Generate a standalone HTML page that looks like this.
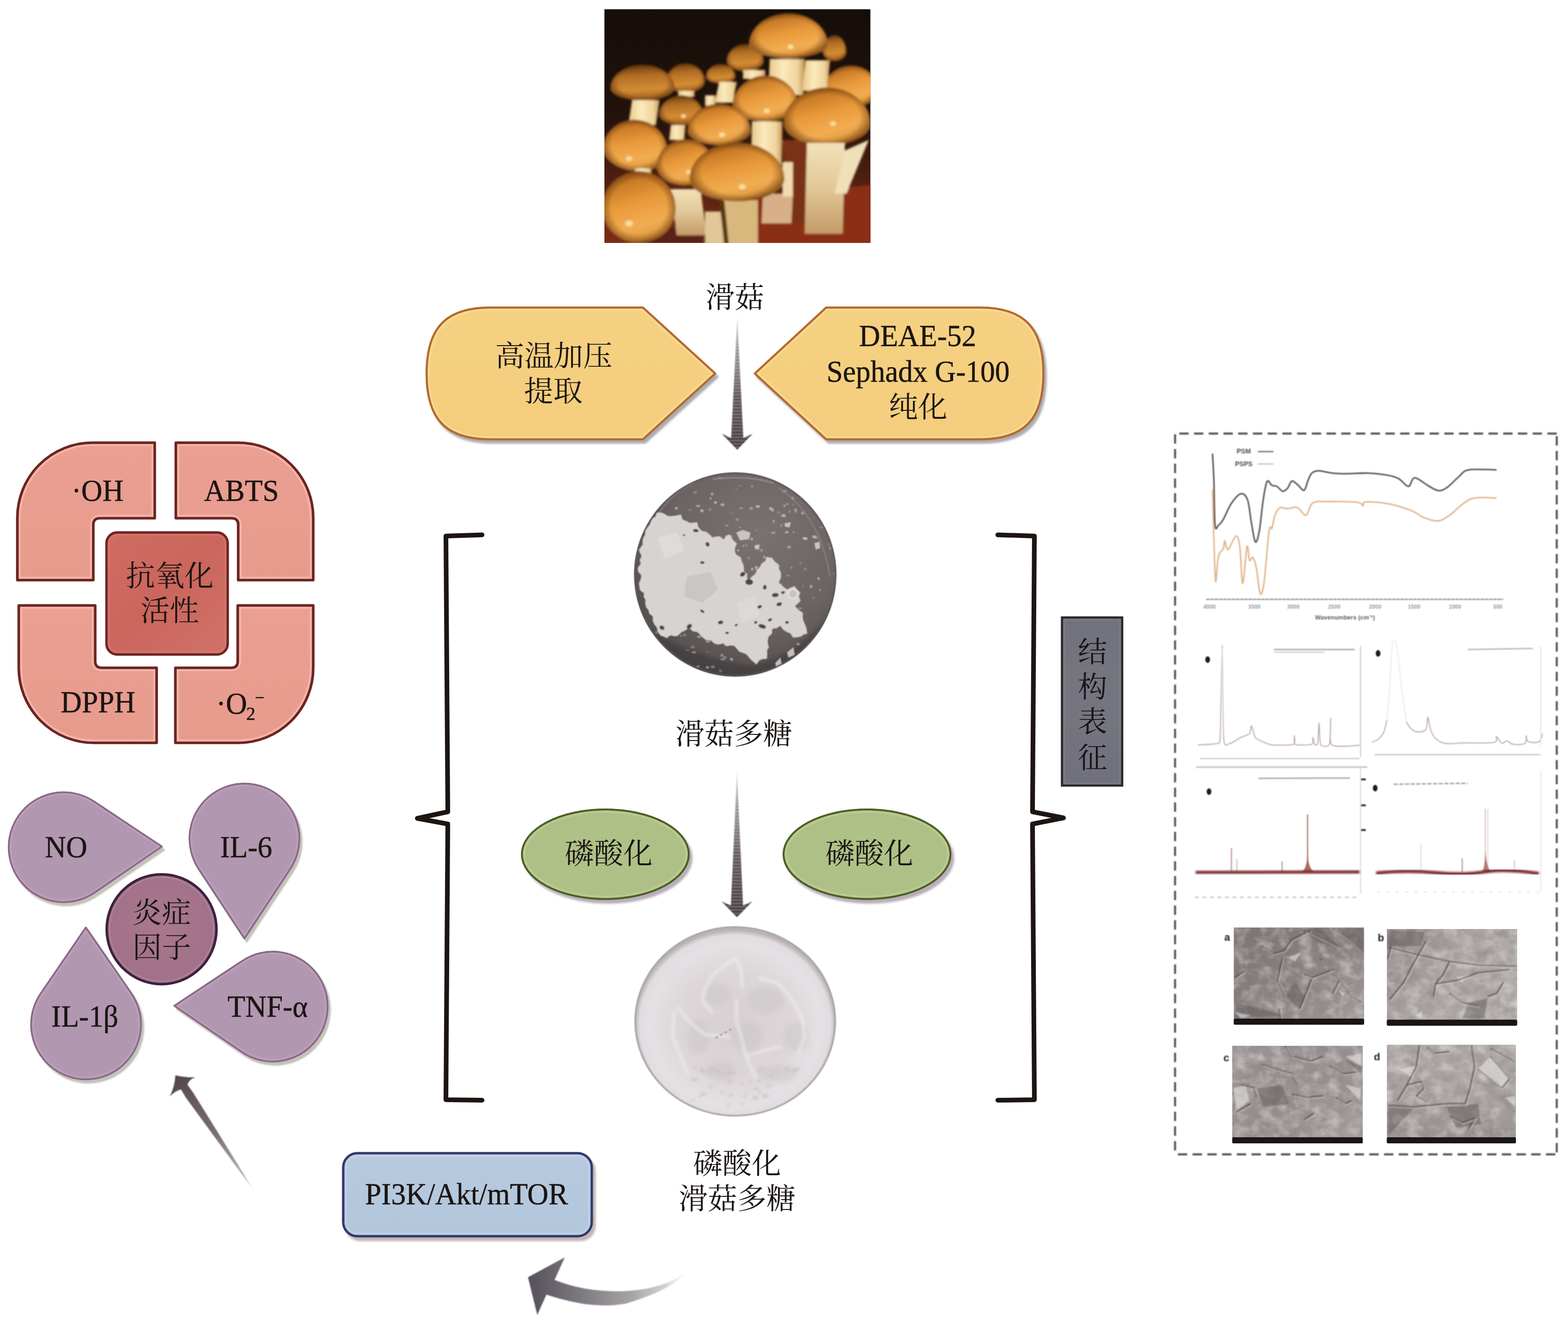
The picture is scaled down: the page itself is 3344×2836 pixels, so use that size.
<!DOCTYPE html>
<html lang="zh-CN"><head><meta charset="utf-8"><title>滑菇多糖 磷酸化 图示</title>
<style>
html,body{margin:0;padding:0;background:#fff;}
body{width:3344px;height:2836px;overflow:hidden;}
svg{display:block;font-family:"Liberation Serif", "Noto Serif CJK SC", serif;}
</style></head><body>
<svg width="3344" height="2836" viewBox="0 0 3344 2836">
<defs>
<clipPath id="cMush"><rect x="1289" y="19.5" width="567.5" height="498.5"/></clipPath>
<filter id="blM" x="-5%" y="-5%" width="110%" height="110%"><feGaussianBlur stdDeviation="2.2"/></filter>
<linearGradient id="gMbg" x1="0" y1="0" x2="0" y2="1"><stop offset="0" stop-color="#150d09"/><stop offset="0.45" stop-color="#21120b"/><stop offset="0.7" stop-color="#4a1e10"/><stop offset="1" stop-color="#7c2c18"/></linearGradient>
<linearGradient id="gCap" x1="0.25" y1="0" x2="0.65" y2="1"><stop offset="0" stop-color="#9c5a1a"/><stop offset="0.18" stop-color="#c97c28"/><stop offset="0.45" stop-color="#e8993a"/><stop offset="0.75" stop-color="#f2ad52"/><stop offset="0.92" stop-color="#e09a40"/><stop offset="1" stop-color="#a8661e"/></linearGradient>
<linearGradient id="gCapD" x1="0.4" y1="0" x2="0.5" y2="1"><stop offset="0" stop-color="#6a3a10"/><stop offset="0.3" stop-color="#b06e24"/><stop offset="0.7" stop-color="#d48c34"/><stop offset="1" stop-color="#9a5c1a"/></linearGradient>
<radialGradient id="gCapS" cx="0.5" cy="0.5" r="0.5"><stop offset="0.75" stop-color="#5a2c08" stop-opacity="0"/><stop offset="1" stop-color="#5a2c08" stop-opacity="0.55"/></radialGradient>
<linearGradient id="gStem" x1="0" y1="0" x2="1" y2="0"><stop offset="0" stop-color="#e8c88c"/><stop offset="0.4" stop-color="#fbeabc"/><stop offset="0.8" stop-color="#f0d49c"/><stop offset="1" stop-color="#c89858"/></linearGradient>
<linearGradient id="gStem2" x1="0" y1="0" x2="0" y2="1"><stop offset="0" stop-color="#f2e2b8"/><stop offset="0.5" stop-color="#e2c898"/><stop offset="1" stop-color="#c49a68"/></linearGradient>
<clipPath id="cD1"><ellipse cx="1568" cy="1225" rx="215" ry="217"/></clipPath>
<radialGradient id="gD1" cx="0.62" cy="0.3" r="0.85"><stop offset="0" stop-color="#7a7270"/><stop offset="0.5" stop-color="#6c6463"/><stop offset="0.85" stop-color="#544e4e"/><stop offset="1" stop-color="#464141"/></radialGradient>
<filter id="blD" x="-10%" y="-10%" width="120%" height="120%"><feGaussianBlur stdDeviation="2"/></filter>
<filter id="blD1" x="-10%" y="-10%" width="120%" height="120%"><feGaussianBlur stdDeviation="1.1"/></filter>
<filter id="blD3" x="-20%" y="-20%" width="140%" height="140%"><feGaussianBlur stdDeviation="5"/></filter>
<clipPath id="cD2"><ellipse cx="1568" cy="2178" rx="213" ry="201"/></clipPath>
<radialGradient id="gD2" cx="0.5" cy="0.52" r="0.5"><stop offset="0" stop-color="#d6cfd3"/><stop offset="0.55" stop-color="#dcd6d9"/><stop offset="0.85" stop-color="#e5e0e3"/><stop offset="0.95" stop-color="#e1dcdf"/><stop offset="1" stop-color="#b9b3b6"/></radialGradient>
<filter id="blD4" x="-20%" y="-20%" width="140%" height="140%"><feGaussianBlur stdDeviation="3.2"/></filter>
<filter id="shY" x="-10%" y="-10%" width="125%" height="130%"><feGaussianBlur in="SourceAlpha" stdDeviation="2"/><feOffset dx="5" dy="7" result="o"/><feFlood flood-color="#96969e" flood-opacity="0.8"/><feComposite in2="o" operator="in"/><feMerge><feMergeNode/><feMergeNode in="SourceGraphic"/></feMerge></filter>
<filter id="shG" x="-10%" y="-10%" width="125%" height="130%"><feGaussianBlur in="SourceAlpha" stdDeviation="2.2"/><feOffset dx="6" dy="8" result="o"/><feFlood flood-color="#a898a8" flood-opacity="0.8"/><feComposite in2="o" operator="in"/><feMerge><feMergeNode/><feMergeNode in="SourceGraphic"/></feMerge></filter>
<filter id="shB" x="-10%" y="-10%" width="125%" height="130%"><feGaussianBlur in="SourceAlpha" stdDeviation="2"/><feOffset dx="6" dy="8" result="o"/><feFlood flood-color="#b8a8a2" flood-opacity="0.85"/><feComposite in2="o" operator="in"/><feMerge><feMergeNode/><feMergeNode in="SourceGraphic"/></feMerge></filter>
<linearGradient id="gY" x1="0" y1="0" x2="0" y2="1"><stop offset="0" stop-color="#f6d182"/><stop offset="1" stop-color="#f4cd7d"/></linearGradient>
<linearGradient id="gArr" x1="0" y1="0" x2="0" y2="1"><stop offset="0" stop-color="#a09a9e" stop-opacity="0.5"/><stop offset="0.22" stop-color="#8a8286" stop-opacity="0.8"/><stop offset="0.6" stop-color="#5e5558"/><stop offset="1" stop-color="#453b3c"/></linearGradient>
<pattern id="pStripe" width="8" height="7" patternUnits="userSpaceOnUse"><rect width="8" height="3" fill="#fff" opacity="0.22"/></pattern>
<radialGradient id="gG" cx="0.5" cy="0.5" r="0.6"><stop offset="0" stop-color="#b0c288"/><stop offset="1" stop-color="#adbf85"/></radialGradient>
<linearGradient id="gB" x1="0" y1="0" x2="0" y2="1"><stop offset="0" stop-color="#b7cadf"/><stop offset="1" stop-color="#b2c6dc"/></linearGradient>
<linearGradient id="gDiag" gradientUnits="userSpaceOnUse" x1="374" y1="2294" x2="545" y2="2543"><stop offset="0" stop-color="#514547"/><stop offset="0.2" stop-color="#64585a"/><stop offset="0.5" stop-color="#7a6e70"/><stop offset="0.85" stop-color="#a09899" stop-opacity="0.8"/><stop offset="1" stop-color="#b0a8aa" stop-opacity="0"/></linearGradient>
<linearGradient id="gCurve" gradientUnits="userSpaceOnUse" x1="1126" y1="0" x2="1470" y2="0"><stop offset="0" stop-color="#55505a"/><stop offset="0.3" stop-color="#7a767c"/><stop offset="0.65" stop-color="#a8a4a8"/><stop offset="0.85" stop-color="#c8c4c6" stop-opacity="0.8"/><stop offset="1" stop-color="#e0dcde" stop-opacity="0"/></linearGradient>
<filter id="soft" x="-10%" y="-10%" width="120%" height="120%"><feGaussianBlur stdDeviation="1.2"/></filter>
<clipPath id="cY0"><path d="M1046,656 L1371,656 L1525,796.5 L1371,936.5 L1046,936.5 C950,936.5 910,893 910,796.5 C910,700 950,656 1046,656 Z"/></clipPath>
<clipPath id="cY1"><path d="M2090,656 L1762,656 L1610,796.5 L1762,936.5 L2090,936.5 C2185,936.5 2225,893 2225,796.5 C2225,700 2185,656 2090,656 Z"/></clipPath>
<linearGradient id="gRed" x1="0" y1="0" x2="0" y2="1"><stop offset="0" stop-color="#ea9f92"/><stop offset="1" stop-color="#e79b8d"/></linearGradient>
<linearGradient id="gRedC" x1="0" y1="0" x2="1" y2="1"><stop offset="0" stop-color="#cf6c62"/><stop offset="0.5" stop-color="#cb665d"/><stop offset="1" stop-color="#d0726a"/></linearGradient>
<clipPath id="cR0"><path d="M197,944 L330,944 L330,1105 L213,1105 Q199,1105 199,1119 L199,1237 L37,1237 L37,1104 A160,160 0 0 1 197,944 Z"/></clipPath>
<clipPath id="cR1"><path d="M375,944 L508,944 A160,160 0 0 1 668,1104 L668,1237 L508,1237 L508,1119 Q508,1105 494,1105 L375,1105 Z"/></clipPath>
<clipPath id="cR2"><path d="M40,1291 L203,1291 L203,1410 Q203,1424 217,1424 L334,1424 L334,1584 L200,1584 A160,160 0 0 1 40,1424 Z"/></clipPath>
<clipPath id="cR3"><path d="M507,1291 L668,1291 L668,1424 A160,160 0 0 1 508,1584 L374,1584 L374,1424 L493,1424 Q507,1424 507,1410 Z"/></clipPath>
<filter id="shP" x="-20%" y="-20%" width="150%" height="150%"><feGaussianBlur in="SourceAlpha" stdDeviation="1.6"/><feOffset dx="5" dy="7" result="o"/><feFlood flood-color="#b2b2a8" flood-opacity="0.8"/><feComposite in2="o" operator="in"/><feMerge><feMergeNode/><feMergeNode in="SourceGraphic"/></feMerge></filter>
<radialGradient id="gPC" cx="0.5" cy="0.45" r="0.6"><stop offset="0" stop-color="#a9788e"/><stop offset="1" stop-color="#a07088"/></radialGradient>
<clipPath id="cP0"><path d="M345.0,1805.2 L200.5,1709.1 A117,117 0 1 0 201.7,1903.1 Z"/></clipPath>
<clipPath id="cP1"><path d="M521.3,2001.0 L619.1,1852.3 A117,117 0 1 0 423.5,1852.3 Z"/></clipPath>
<clipPath id="cP2"><path d="M372.0,2144.7 L515.5,2242.9 A117,117 0 1 0 517.1,2048.8 Z"/></clipPath>
<clipPath id="cP3"><path d="M183.0,1978.0 L87.0,2118.3 A117,117 0 1 0 279.7,2117.8 Z"/></clipPath>
<filter id="bl1" x="-5%" y="-5%" width="110%" height="110%"><feGaussianBlur stdDeviation="1.3"/></filter>
<filter id="blH" x="-5%" y="-5%" width="110%" height="110%"><feGaussianBlur stdDeviation="0.7"/></filter>
<filter id="bl2" x="-5%" y="-20%" width="110%" height="140%"><feGaussianBlur stdDeviation="2"/></filter>
<linearGradient id="gBox" x1="0" y1="0" x2="0" y2="1"><stop offset="0" stop-color="#72727d"/><stop offset="0.5" stop-color="#75757f"/><stop offset="1" stop-color="#71717c"/></linearGradient>
<filter id="semTex" x="0" y="0" width="100%" height="100%"><feTurbulence type="fractalNoise" baseFrequency="0.03 0.04" numOctaves="3" seed="21"/><feColorMatrix type="matrix" values="0 0 0 0 0.25  0 0 0 0 0.23  0 0 0 0 0.24  1.8 1.4 0 0 -1.35"/></filter>
<filter id="semTexL" x="0" y="0" width="100%" height="100%"><feTurbulence type="fractalNoise" baseFrequency="0.035 0.045" numOctaves="3" seed="33"/><feColorMatrix type="matrix" values="0 0 0 0 0.85  0 0 0 0 0.83  0 0 0 0 0.83  1.8 1.4 0 0 -1.4"/></filter>
<filter id="bl3" x="-5%" y="-5%" width="110%" height="110%"><feGaussianBlur stdDeviation="1.6"/></filter>
<linearGradient id="gSa" x1="0" y1="0" x2="1" y2="1"><stop offset="0" stop-color="#7a7271"/><stop offset="0.5" stop-color="#8a8180"/><stop offset="1" stop-color="#a69e9c"/></linearGradient>
<linearGradient id="gSb" x1="0" y1="0" x2="1" y2="0.6"><stop offset="0" stop-color="#8e8685"/><stop offset="0.4" stop-color="#a8a19f"/><stop offset="1" stop-color="#b4adab"/></linearGradient>
<linearGradient id="gSc" x1="0" y1="0" x2="1" y2="1"><stop offset="0" stop-color="#9e9796"/><stop offset="0.5" stop-color="#97908f"/><stop offset="1" stop-color="#a69f9d"/></linearGradient>
<linearGradient id="gSd" x1="0" y1="0" x2="0" y2="1"><stop offset="0" stop-color="#b0a9a7"/><stop offset="0.6" stop-color="#a69f9d"/><stop offset="1" stop-color="#9a9392"/></linearGradient>
<clipPath id="cSa"><rect x="2631.2" y="1977.6" width="278.0" height="207.3"/></clipPath>
<clipPath id="cSb"><rect x="2957.6" y="1981.0" width="278.0" height="206.3"/></clipPath>
<clipPath id="cSc"><rect x="2627.8" y="2230.0" width="278.7" height="208.0"/></clipPath>
<clipPath id="cSd"><rect x="2957.6" y="2227.6" width="275.3" height="210.3"/></clipPath>
</defs>
<rect width="3344" height="2836" fill="#ffffff"/>
<g id="mushroom" clip-path="url(#cMush)"><rect x="1289" y="19.5" width="567.5" height="498.5" fill="url(#gMbg)"/><g filter="url(#blM)">
<path d="M1605.1,425.4 L1859.1,393.7 L1859.1,520.7 L1605.1,520.7 Z" fill="#8a2e18"/>
<path d="M1668.6,298.4 L1722.6,298.4 L1716.2,476.2 L1678.2,476.2 Z" fill="#7a3216"/>
<path d="M1386.0,476.2 L1500.3,495.3 L1500.3,520.7 L1386.0,520.7 Z" fill="#5a2412"/>
<path d="M1549.5,130.2 A39.7,36.5 0 0 1 1628.9,130.2 A39.7,22.2 0 0 1 1549.5,130.2 Z" fill="url(#gCapD)"/><path d="M1549.5,130.2 A39.7,36.5 0 0 1 1628.9,130.2 A39.7,22.2 0 0 1 1549.5,130.2 Z" fill="url(#gCapS)"/>
<path d="M1754.3999999999999,111.1 A25.4,36.5 0 0 1 1805.2,111.1 A25.4,19.7 0 0 1 1754.3999999999999,111.1 Z" fill="url(#gCapD)"/><path d="M1754.3999999999999,111.1 A25.4,36.5 0 0 1 1805.2,111.1 A25.4,19.7 0 0 1 1754.3999999999999,111.1 Z" fill="url(#gCapS)"/>
<path d="M1420.9,173.0 A41.3,38.1 0 0 1 1503.5,173.0 A41.3,25.4 0 0 1 1420.9,173.0 Z" fill="url(#gCapD)"/><path d="M1420.9,173.0 A41.3,38.1 0 0 1 1503.5,173.0 A41.3,25.4 0 0 1 1420.9,173.0 Z" fill="url(#gCapS)"/>
<path d="M1505.1000000000001,163.5 A31.8,27.0 0 0 1 1568.7,163.5 A31.8,15.2 0 0 1 1505.1000000000001,163.5 Z" fill="url(#gCapD)"/><path d="M1505.1000000000001,163.5 A31.8,27.0 0 0 1 1568.7,163.5 A31.8,15.2 0 0 1 1505.1000000000001,163.5 Z" fill="url(#gCapS)"/>
<path d="M1754.4,196.8 A60.3,57.1 0 0 1 1875.0,196.8 A60.3,31.8 0 0 1 1754.4,196.8 Z" fill="url(#gCap)"/><path d="M1754.4,196.8 A60.3,57.1 0 0 1 1875.0,196.8 A60.3,31.8 0 0 1 1754.4,196.8 Z" fill="url(#gCapS)"/>
<path d="M1641.6,125.4 L1716.2,125.4 L1713.1,203.2 L1638.5,203.2 Z" fill="url(#gStem)"/>
<path d="M1717.8,128.6 L1770.2,128.6 L1763.9,193.7 L1711.5,193.7 Z" fill="url(#gStem)"/>
<path d="M1533.7,174.6 L1571.8,174.6 L1562.3,219.1 L1524.2,219.1 Z" fill="url(#gStem)"/>
<path d="M1584.5,149.2 L1632.1,149.2 L1632.1,168.3 L1584.5,168.3 Z" fill="url(#gStem)"/>
<path d="M1446.4,193.7 L1481.3,193.7 L1481.3,206.4 L1446.4,206.4 Z" fill="url(#gStem)"/>
<path d="M1503.5,203.2 L1525.8,203.2 L1525.8,225.4 L1503.5,225.4 Z" fill="url(#gStem)"/>
<path d="M1597.2,95.2 A84.1,66.7 0 0 1 1765.3999999999999,95.2 A84.1,29.2 0 0 1 1597.2,95.2 Z" fill="url(#gCap)"/><path d="M1597.2,95.2 A84.1,66.7 0 0 1 1765.3999999999999,95.2 A84.1,29.2 0 0 1 1597.2,95.2 Z" fill="url(#gCapS)"/>
<ellipse cx="1686.1" cy="100.0" rx="6.6" ry="5.1" fill="#fde7a8" opacity="0.85"/>
<path d="M1301.9,187.3 A68.3,49.2 0 0 1 1438.5,187.3 A68.3,27.0 0 0 1 1301.9,187.3 Z" fill="url(#gCapD)"/><path d="M1301.9,187.3 A68.3,49.2 0 0 1 1438.5,187.3 A68.3,27.0 0 0 1 1301.9,187.3 Z" fill="url(#gCapS)"/>
<path d="M1348.0,213.4 L1406.7,213.4 L1398.8,266.7 L1340.0,266.7 Z" fill="url(#gStem)"/>
<path d="M1561.6,228.6 A70.5,67.3 0 0 1 1702.6,228.6 A70.5,30.5 0 0 1 1561.6,228.6 Z" fill="url(#gCap)"/><path d="M1561.6,228.6 A70.5,67.3 0 0 1 1702.6,228.6 A70.5,30.5 0 0 1 1561.6,228.6 Z" fill="url(#gCapS)"/>
<ellipse cx="1635.3" cy="236.5" rx="6.6" ry="5.1" fill="#fde7a8" opacity="0.85"/>
<path d="M1405.7,244.5 A47.0,41.3 0 0 1 1499.7,244.5 A47.0,22.9 0 0 1 1405.7,244.5 Z" fill="url(#gCapD)"/><path d="M1405.7,244.5 A47.0,41.3 0 0 1 1499.7,244.5 A47.0,22.9 0 0 1 1405.7,244.5 Z" fill="url(#gCapS)"/>
<ellipse cx="1457.5" cy="247.7" rx="5.4" ry="4.1" fill="#fde7a8" opacity="0.85"/>
<path d="M1430.5,266.7 L1462.2,266.7 L1459.1,298.4 L1427.3,298.4 Z" fill="url(#gStem)"/>
<path d="M1603.5,258.8 L1668.6,258.8 L1667.0,352.4 L1602.0,352.4 Z" fill="url(#gStem)"/>
<path d="M1466.4,279.4 A67.3,57.8 0 0 1 1601.0,279.4 A67.3,30.5 0 0 1 1466.4,279.4 Z" fill="url(#gCap)"/><path d="M1466.4,279.4 A67.3,57.8 0 0 1 1601.0,279.4 A67.3,30.5 0 0 1 1466.4,279.4 Z" fill="url(#gCapS)"/>
<ellipse cx="1540.0" cy="287.3" rx="6.6" ry="5.1" fill="#fde7a8" opacity="0.85"/>
<path d="M1671.2,263.5 A92.7,76.8 0 0 1 1856.6000000000001,263.5 A92.7,47.0 0 0 1 1671.2,263.5 Z" fill="url(#gCap)"/><path d="M1671.2,263.5 A92.7,76.8 0 0 1 1856.6000000000001,263.5 A92.7,47.0 0 0 1 1671.2,263.5 Z" fill="url(#gCapS)"/>
<ellipse cx="1776.6" cy="263.5" rx="6.6" ry="5.1" fill="#fde7a8" opacity="0.85"/>
<path d="M1721.0,304.8 L1802.0,304.8 L1797.2,498.5 L1716.2,498.5 Z" fill="url(#gStem2)"/>
<path d="M1802.0,320.7 L1852.8,298.4 L1805.2,412.8 L1779.8,412.8 Z" fill="#efe0b8"/>
<path d="M1285.1,320.7 A69.2,65.1 0 0 1 1423.5,320.7 A69.2,44.5 0 0 1 1285.1,320.7 Z" fill="url(#gCap)" transform="rotate(8 1354.3 320.7)"/><path d="M1285.1,320.7 A69.2,65.1 0 0 1 1423.5,320.7 A69.2,44.5 0 0 1 1285.1,320.7 Z" fill="url(#gCapS)" transform="rotate(8 1354.3 320.7)"/>
<ellipse cx="1341.6" cy="338.1" rx="6.6" ry="5.1" fill="#fde7a8" opacity="0.85"/>
<path d="M1354.3,358.8 L1389.2,358.8 L1389.2,377.8 L1354.3,377.8 Z" fill="url(#gStem)"/>
<path d="M1400.3,355.6 A61.9,58.7 0 0 1 1524.1000000000001,355.6 A61.9,40.6 0 0 1 1400.3,355.6 Z" fill="url(#gCap)"/><path d="M1400.3,355.6 A61.9,58.7 0 0 1 1524.1000000000001,355.6 A61.9,40.6 0 0 1 1400.3,355.6 Z" fill="url(#gCapS)"/>
<ellipse cx="1468.6" cy="366.7" rx="5.8" ry="4.4" fill="#fde7a8" opacity="0.85"/>
<path d="M1430.5,403.2 L1494.0,403.2 L1506.7,501.7 L1443.2,501.7 Z" fill="url(#gStem2)"/>
<path d="M1627.3,412.8 L1690.8,412.8 L1687.7,476.2 L1624.2,476.2 Z" fill="#d8b088"/>
<path d="M1668.6,346.1 L1690.8,346.1 L1690.8,419.1 L1668.6,419.1 Z" fill="#f0dcb0"/>
<path d="M1541.6,427.0 L1616.2,427.0 L1616.2,520.7 L1541.6,520.7 Z" fill="#d9b87e"/>
<path d="M1503.5,450.9 L1541.6,450.9 L1541.6,520.7 L1503.5,520.7 Z" fill="#e0c898"/>
<path d="M1533.7,428.6 L1544.8,428.6 L1554.3,520.7 L1544.8,520.7 Z" fill="#5a3410"/>
<path d="M1470.8,381.0 A101.0,76.8 0 0 1 1672.8,381.0 A101.0,48.3 0 0 1 1470.8,381.0 Z" fill="url(#gCap)"/><path d="M1470.8,381.0 A101.0,76.8 0 0 1 1672.8,381.0 A101.0,48.3 0 0 1 1470.8,381.0 Z" fill="url(#gCapS)"/>
<ellipse cx="1582.9" cy="398.5" rx="7.4" ry="5.7" fill="#fde7a8" opacity="0.85"/>
<path d="M1283.5,444.5 A78.7,79.4 0 0 1 1440.9,444.5 A78.7,73.7 0 0 1 1283.5,444.5 Z" fill="url(#gCap)" transform="rotate(5 1362.2 444.5)"/><path d="M1283.5,444.5 A78.7,79.4 0 0 1 1440.9,444.5 A78.7,73.7 0 0 1 1283.5,444.5 Z" fill="url(#gCapS)" transform="rotate(5 1362.2 444.5)"/>
<ellipse cx="1341.6" cy="476.2" rx="8.3" ry="6.3" fill="#fde7a8" opacity="0.85"/>
</g></g>
<g id="dish1"><ellipse cx="1568" cy="1225" rx="215.5" ry="217.5" fill="url(#gD1)"/><g clip-path="url(#cD1)">
<path d="M1360,1330 Q1470,1400 1600,1420 Q1700,1400 1780,1300 L1790,1450 L1350,1450 Z" fill="#3a3638" opacity="0.55" filter="url(#blD3)"/>
<g fill="#dad6d4" filter="url(#blD1)"><ellipse cx="1488.7" cy="1421.1" rx="3.8" ry="2.2" opacity="0.48"/><ellipse cx="1620.4" cy="1275.3" rx="2.7" ry="2.6" opacity="0.35"/><ellipse cx="1576.4" cy="1269.5" rx="3.7" ry="1.7" opacity="0.66"/><ellipse cx="1596.5" cy="1190.0" rx="2.3" ry="2.7" opacity="0.35"/><ellipse cx="1702.2" cy="1373.5" rx="3.5" ry="2.3" opacity="0.60"/><ellipse cx="1591.4" cy="1162.5" rx="1.8" ry="2.2" opacity="0.44"/><ellipse cx="1409.1" cy="1258.7" rx="3.9" ry="3.5" opacity="0.29"/><ellipse cx="1492.0" cy="1278.8" rx="4.5" ry="1.8" opacity="0.34"/><ellipse cx="1466.0" cy="1259.4" rx="2.5" ry="1.8" opacity="0.67"/><ellipse cx="1393.8" cy="1290.6" rx="3.4" ry="1.3" opacity="0.70"/><ellipse cx="1673.6" cy="1047.4" rx="4.7" ry="3.2" opacity="0.32"/><ellipse cx="1497.9" cy="1231.4" rx="2.9" ry="1.3" opacity="0.42"/><ellipse cx="1647.2" cy="1217.6" rx="4.2" ry="2.2" opacity="0.44"/><ellipse cx="1770.4" cy="1168.9" rx="3.4" ry="2.9" opacity="0.32"/><ellipse cx="1508.7" cy="1423.2" rx="3.5" ry="2.4" opacity="0.59"/><ellipse cx="1695.8" cy="1273.4" rx="3.3" ry="3.2" opacity="0.32"/><ellipse cx="1613.1" cy="1213.5" rx="2.2" ry="2.6" opacity="0.55"/><ellipse cx="1573.0" cy="1278.9" rx="4.6" ry="1.8" opacity="0.52"/><ellipse cx="1489.7" cy="1151.3" rx="3.5" ry="2.4" opacity="0.67"/><ellipse cx="1613.4" cy="1379.9" rx="2.3" ry="2.1" opacity="0.55"/><ellipse cx="1540.6" cy="1310.1" rx="4.1" ry="1.4" opacity="0.46"/><ellipse cx="1778.0" cy="1222.9" rx="1.8" ry="1.7" opacity="0.37"/><ellipse cx="1741.0" cy="1147.1" rx="4.6" ry="2.0" opacity="0.32"/><ellipse cx="1647.3" cy="1087.3" rx="3.6" ry="3.5" opacity="0.54"/><ellipse cx="1745.8" cy="1233.8" rx="2.5" ry="2.7" opacity="0.67"/><ellipse cx="1603.1" cy="1264.9" rx="1.9" ry="2.5" opacity="0.37"/><ellipse cx="1441.2" cy="1126.0" rx="2.2" ry="2.7" opacity="0.37"/><ellipse cx="1374.7" cy="1239.1" rx="4.5" ry="1.4" opacity="0.44"/><ellipse cx="1562.5" cy="1257.7" rx="4.2" ry="2.7" opacity="0.37"/><ellipse cx="1560.8" cy="1093.3" rx="3.0" ry="1.2" opacity="0.28"/><ellipse cx="1711.7" cy="1094.1" rx="3.4" ry="3.1" opacity="0.51"/><ellipse cx="1600.9" cy="1269.5" rx="2.6" ry="3.3" opacity="0.61"/><ellipse cx="1691.5" cy="1075.7" rx="2.2" ry="1.8" opacity="0.30"/><ellipse cx="1603.7" cy="1036.6" rx="2.9" ry="2.6" opacity="0.32"/><ellipse cx="1736.7" cy="1144.7" rx="4.9" ry="3.1" opacity="0.65"/><ellipse cx="1729.7" cy="1250.6" rx="2.7" ry="3.3" opacity="0.61"/><ellipse cx="1684.2" cy="1090.4" rx="2.4" ry="3.0" opacity="0.30"/><ellipse cx="1696.8" cy="1090.3" rx="2.3" ry="3.1" opacity="0.46"/><ellipse cx="1508.8" cy="1390.3" rx="2.3" ry="1.3" opacity="0.34"/><ellipse cx="1479.9" cy="1390.9" rx="4.9" ry="1.8" opacity="0.54"/><ellipse cx="1400.5" cy="1348.3" rx="3.4" ry="3.4" opacity="0.30"/><ellipse cx="1631.0" cy="1213.0" rx="4.9" ry="1.8" opacity="0.30"/><ellipse cx="1419.3" cy="1290.5" rx="2.6" ry="2.6" opacity="0.48"/><ellipse cx="1466.5" cy="1315.1" rx="2.4" ry="2.8" opacity="0.25"/><ellipse cx="1682.6" cy="1166.6" rx="4.0" ry="2.9" opacity="0.55"/><ellipse cx="1538.6" cy="1259.0" rx="3.8" ry="2.0" opacity="0.39"/><ellipse cx="1660.8" cy="1092.6" rx="2.6" ry="1.9" opacity="0.43"/><ellipse cx="1498.5" cy="1274.4" rx="1.9" ry="2.2" opacity="0.67"/><ellipse cx="1482.7" cy="1049.8" rx="3.7" ry="1.9" opacity="0.50"/><ellipse cx="1651.4" cy="1225.2" rx="3.0" ry="2.5" opacity="0.54"/><ellipse cx="1459.5" cy="1249.5" rx="2.2" ry="2.3" opacity="0.66"/><ellipse cx="1585.8" cy="1164.5" rx="1.8" ry="2.4" opacity="0.53"/><ellipse cx="1477.1" cy="1379.8" rx="4.1" ry="2.7" opacity="0.35"/><ellipse cx="1579.5" cy="1260.1" rx="2.4" ry="2.3" opacity="0.63"/><ellipse cx="1663.3" cy="1272.4" rx="3.7" ry="1.6" opacity="0.56"/><ellipse cx="1492.3" cy="1227.7" rx="3.8" ry="1.2" opacity="0.59"/><ellipse cx="1574.4" cy="1173.7" rx="3.0" ry="1.6" opacity="0.68"/><ellipse cx="1527.1" cy="1220.3" rx="2.4" ry="3.2" opacity="0.46"/><ellipse cx="1616.1" cy="1080.1" rx="5.0" ry="2.6" opacity="0.68"/><ellipse cx="1677.9" cy="1134.9" rx="4.0" ry="2.4" opacity="0.62"/><ellipse cx="1384.3" cy="1167.5" rx="4.1" ry="2.3" opacity="0.37"/><ellipse cx="1570.5" cy="1372.4" rx="4.2" ry="2.4" opacity="0.53"/><ellipse cx="1560.9" cy="1271.0" rx="2.5" ry="1.8" opacity="0.39"/><ellipse cx="1512.9" cy="1210.7" rx="2.3" ry="2.8" opacity="0.57"/><ellipse cx="1664.6" cy="1266.6" rx="3.4" ry="2.2" opacity="0.34"/><ellipse cx="1398.2" cy="1319.0" rx="3.5" ry="2.8" opacity="0.64"/><ellipse cx="1577.8" cy="1124.4" rx="1.5" ry="2.0" opacity="0.59"/><ellipse cx="1690.5" cy="1062.4" rx="3.0" ry="2.9" opacity="0.50"/><ellipse cx="1510.9" cy="1181.3" rx="2.3" ry="2.2" opacity="0.26"/><ellipse cx="1489.0" cy="1357.7" rx="2.9" ry="1.6" opacity="0.46"/><ellipse cx="1667.6" cy="1328.9" rx="1.6" ry="2.1" opacity="0.50"/><ellipse cx="1712.8" cy="1250.1" rx="2.0" ry="2.3" opacity="0.27"/><ellipse cx="1517.2" cy="1273.7" rx="2.6" ry="3.0" opacity="0.42"/><ellipse cx="1570.3" cy="1042.6" rx="2.4" ry="1.4" opacity="0.26"/><ellipse cx="1363.7" cy="1172.9" rx="2.7" ry="2.7" opacity="0.60"/><ellipse cx="1471.4" cy="1087.7" rx="4.8" ry="1.7" opacity="0.26"/><ellipse cx="1599.5" cy="1270.2" rx="3.8" ry="2.5" opacity="0.35"/><ellipse cx="1515.2" cy="1062.9" rx="2.1" ry="2.6" opacity="0.59"/><ellipse cx="1702.2" cy="1343.7" rx="4.9" ry="1.4" opacity="0.26"/><ellipse cx="1509.9" cy="1368.0" rx="4.9" ry="2.1" opacity="0.57"/><ellipse cx="1706.1" cy="1297.1" rx="3.7" ry="1.4" opacity="0.60"/><ellipse cx="1650.1" cy="1111.3" rx="1.9" ry="3.5" opacity="0.60"/><ellipse cx="1505.7" cy="1314.9" rx="2.8" ry="2.4" opacity="0.40"/><ellipse cx="1672.8" cy="1078.6" rx="1.9" ry="3.4" opacity="0.54"/><ellipse cx="1643.2" cy="1084.2" rx="3.0" ry="2.9" opacity="0.68"/><ellipse cx="1545.8" cy="1401.7" rx="3.4" ry="2.3" opacity="0.45"/><ellipse cx="1558.5" cy="1144.7" rx="4.5" ry="3.1" opacity="0.29"/><ellipse cx="1623.8" cy="1173.2" rx="3.1" ry="2.6" opacity="0.42"/><ellipse cx="1749.1" cy="1258.3" rx="2.1" ry="1.7" opacity="0.61"/><ellipse cx="1466.2" cy="1386.1" rx="4.0" ry="1.8" opacity="0.25"/><ellipse cx="1613.0" cy="1209.6" rx="4.0" ry="2.3" opacity="0.59"/><ellipse cx="1514.2" cy="1086.4" rx="3.2" ry="3.0" opacity="0.29"/><ellipse cx="1595.6" cy="1379.7" rx="2.6" ry="2.5" opacity="0.46"/><ellipse cx="1461.9" cy="1203.9" rx="4.1" ry="2.0" opacity="0.57"/><ellipse cx="1557.9" cy="1302.2" rx="1.9" ry="1.6" opacity="0.30"/><ellipse cx="1404.0" cy="1187.1" rx="2.1" ry="1.7" opacity="0.47"/><ellipse cx="1535.2" cy="1019.2" rx="3.3" ry="1.9" opacity="0.30"/><ellipse cx="1593.1" cy="1294.0" rx="2.1" ry="1.2" opacity="0.49"/><ellipse cx="1536.6" cy="1430.6" rx="3.4" ry="2.8" opacity="0.31"/><ellipse cx="1649.2" cy="1136.0" rx="4.6" ry="2.5" opacity="0.46"/><ellipse cx="1507.4" cy="1249.0" rx="1.7" ry="3.4" opacity="0.46"/><ellipse cx="1613.4" cy="1130.8" rx="1.8" ry="2.6" opacity="0.27"/><ellipse cx="1646.5" cy="1332.9" rx="2.6" ry="3.5" opacity="0.30"/><ellipse cx="1580.7" cy="1083.8" rx="4.3" ry="1.7" opacity="0.49"/><ellipse cx="1462.1" cy="1259.4" rx="4.5" ry="3.5" opacity="0.39"/><ellipse cx="1465.8" cy="1126.9" rx="4.1" ry="3.4" opacity="0.34"/><ellipse cx="1604.4" cy="1372.0" rx="2.0" ry="1.6" opacity="0.28"/><ellipse cx="1680.6" cy="1226.9" rx="3.6" ry="1.9" opacity="0.35"/><ellipse cx="1525.9" cy="1071.6" rx="3.1" ry="2.8" opacity="0.67"/><ellipse cx="1601.9" cy="1084.0" rx="3.8" ry="3.3" opacity="0.44"/><ellipse cx="1425.9" cy="1183.8" rx="4.7" ry="3.1" opacity="0.28"/><ellipse cx="1611.9" cy="1301.0" rx="4.1" ry="2.5" opacity="0.38"/><ellipse cx="1678.1" cy="1335.3" rx="3.9" ry="3.4" opacity="0.48"/><ellipse cx="1521.4" cy="1226.8" rx="1.6" ry="2.2" opacity="0.40"/><ellipse cx="1567.9" cy="1274.0" rx="4.9" ry="3.1" opacity="0.51"/><ellipse cx="1768.6" cy="1160.3" rx="3.9" ry="1.8" opacity="0.27"/><ellipse cx="1572.6" cy="1107.8" rx="3.8" ry="3.3" opacity="0.33"/><ellipse cx="1442.9" cy="1150.0" rx="3.2" ry="1.4" opacity="0.41"/><ellipse cx="1492.1" cy="1357.7" rx="4.5" ry="2.0" opacity="0.56"/><ellipse cx="1520.2" cy="1422.0" rx="4.3" ry="2.5" opacity="0.45"/><ellipse cx="1532.5" cy="1308.4" rx="4.9" ry="2.1" opacity="0.48"/><ellipse cx="1717.2" cy="1213.7" rx="3.4" ry="2.2" opacity="0.33"/><ellipse cx="1460.0" cy="1353.8" rx="3.7" ry="2.9" opacity="0.34"/><ellipse cx="1379.6" cy="1164.2" rx="3.0" ry="2.8" opacity="0.30"/><ellipse cx="1706.9" cy="1201.1" rx="2.3" ry="1.6" opacity="0.50"/><ellipse cx="1521.7" cy="1209.1" rx="5.0" ry="3.3" opacity="0.46"/><ellipse cx="1701.7" cy="1347.7" rx="3.2" ry="2.8" opacity="0.48"/><ellipse cx="1541.4" cy="1405.9" rx="4.9" ry="1.8" opacity="0.50"/><ellipse cx="1421.6" cy="1357.6" rx="3.3" ry="3.2" opacity="0.64"/><ellipse cx="1539.6" cy="1397.5" rx="3.0" ry="3.3" opacity="0.48"/><ellipse cx="1603.5" cy="1149.6" rx="2.5" ry="2.5" opacity="0.70"/><ellipse cx="1509.4" cy="1228.9" rx="3.4" ry="2.0" opacity="0.50"/><ellipse cx="1458.7" cy="1194.1" rx="2.6" ry="1.6" opacity="0.56"/><ellipse cx="1501.5" cy="1192.5" rx="4.2" ry="1.3" opacity="0.59"/><ellipse cx="1518.8" cy="1053.3" rx="2.9" ry="2.7" opacity="0.62"/><ellipse cx="1687.8" cy="1210.4" rx="1.6" ry="2.4" opacity="0.52"/><ellipse cx="1696.6" cy="1086.3" rx="3.0" ry="2.4" opacity="0.46"/><ellipse cx="1549.8" cy="1120.2" rx="3.8" ry="1.6" opacity="0.46"/><ellipse cx="1658.9" cy="1207.0" rx="3.9" ry="2.7" opacity="0.63"/><ellipse cx="1679.3" cy="1075.1" rx="2.8" ry="1.9" opacity="0.57"/><ellipse cx="1579.1" cy="1035.7" rx="1.6" ry="1.4" opacity="0.53"/><ellipse cx="1752.8" cy="1123.9" rx="4.1" ry="2.2" opacity="0.29"/><ellipse cx="1442.6" cy="1083.7" rx="3.1" ry="2.8" opacity="0.66"/><ellipse cx="1735.1" cy="1275.1" rx="2.5" ry="2.1" opacity="0.32"/><ellipse cx="1437.3" cy="1198.8" rx="4.3" ry="1.6" opacity="0.29"/><ellipse cx="1666.3" cy="1120.4" rx="2.3" ry="3.3" opacity="0.31"/><ellipse cx="1492.7" cy="1243.9" rx="2.4" ry="1.2" opacity="0.61"/><ellipse cx="1692.6" cy="1135.1" rx="2.1" ry="2.2" opacity="0.41"/><ellipse cx="1443.3" cy="1147.8" rx="3.0" ry="1.8" opacity="0.63"/><ellipse cx="1599.7" cy="1321.7" rx="3.2" ry="1.7" opacity="0.51"/><ellipse cx="1381.3" cy="1129.3" rx="2.5" ry="3.4" opacity="0.55"/><ellipse cx="1547.6" cy="1357.9" rx="3.9" ry="2.9" opacity="0.27"/><ellipse cx="1473.1" cy="1149.4" rx="4.7" ry="1.9" opacity="0.61"/><ellipse cx="1493.6" cy="1165.2" rx="3.7" ry="2.6" opacity="0.55"/><ellipse cx="1540.8" cy="1076.2" rx="4.4" ry="2.6" opacity="0.66"/><ellipse cx="1515.0" cy="1154.9" rx="3.0" ry="2.5" opacity="0.58"/><ellipse cx="1639.7" cy="1271.0" rx="4.1" ry="1.6" opacity="0.31"/><ellipse cx="1368.7" cy="1174.1" rx="3.4" ry="3.3" opacity="0.62"/><ellipse cx="1560.1" cy="1405.9" rx="3.2" ry="3.1" opacity="0.59"/><ellipse cx="1540.1" cy="1270.2" rx="4.9" ry="1.5" opacity="0.68"/><ellipse cx="1671.0" cy="1099.5" rx="4.9" ry="3.4" opacity="0.61"/><ellipse cx="1452.7" cy="1355.7" rx="1.5" ry="2.4" opacity="0.45"/><ellipse cx="1497.0" cy="1089.1" rx="3.5" ry="3.1" opacity="0.67"/><ellipse cx="1625.5" cy="1272.0" rx="1.6" ry="3.2" opacity="0.50"/><ellipse cx="1629.8" cy="1188.2" rx="1.7" ry="3.1" opacity="0.66"/><ellipse cx="1534.1" cy="1325.4" rx="2.0" ry="3.4" opacity="0.39"/><ellipse cx="1518.5" cy="1227.3" rx="4.6" ry="1.5" opacity="0.45"/><ellipse cx="1489.0" cy="1078.9" rx="4.8" ry="2.2" opacity="0.58"/><ellipse cx="1628.0" cy="1313.5" rx="1.8" ry="2.3" opacity="0.43"/><ellipse cx="1604.3" cy="1213.5" rx="2.8" ry="2.2" opacity="0.68"/></g>
<path d="M1660,1040 Q1750,1100 1770,1230" fill="none" stroke="#8e888a" stroke-width="3" opacity="0.7" filter="url(#blD1)"/>
<path d="M1520,1022 Q1590,1012 1650,1030" fill="none" stroke="#a8a2a4" stroke-width="3" opacity="0.6" filter="url(#blD1)"/>
<path d="M1395,1110 Q1430,1050 1480,1030" fill="none" stroke="#9a9496" stroke-width="3" opacity="0.5" filter="url(#blD1)"/>
<g filter="url(#blD1)"><polygon points="1400.2,1092.9 1409.7,1092.8 1417.2,1095.4 1423.5,1099.9 1430.9,1100.4 1440.6,1099.5 1452.5,1097.1 1455.5,1107.5 1464.4,1111.2 1471.4,1115.1 1479.0,1114.6 1486.7,1113.3 1489.2,1123.7 1496.6,1132.0 1505.8,1133.7 1512.8,1139.0 1519.7,1146.1 1527.5,1144.1 1535.1,1143.4 1543.7,1150.2 1548.3,1141.7 1557.2,1140.0 1560.8,1147.6 1564.6,1152.6 1571.7,1159.2 1567.8,1167.2 1567.2,1175.9 1570.9,1183.3 1579.8,1188.1 1581.9,1196.5 1585.3,1203.5 1586.6,1211.1 1586.9,1218.8 1593.6,1223.6 1593.3,1232.3 1597.5,1238.1 1602.9,1229.6 1610.9,1224.0 1613.9,1215.6 1620.4,1209.3 1624.2,1201.5 1632.9,1195.5 1633.5,1187.6 1646.6,1189.5 1652.4,1197.6 1659.7,1202.8 1661.5,1212.8 1665.6,1221.2 1665.5,1231.7 1661.0,1241.9 1666.6,1246.5 1671.4,1252.1 1678.7,1256.8 1694.4,1249.6 1699.9,1256.9 1707.0,1263.4 1703.6,1271.7 1707.6,1281.1 1695.6,1292.6 1702.6,1300.0 1712.6,1306.9 1711.8,1314.9 1713.1,1322.5 1715.9,1329.6 1719.8,1339.0 1721.6,1351.0 1713.0,1353.5 1708.9,1356.9 1699.2,1359.2 1691.0,1359.6 1685.8,1351.0 1676.6,1346.9 1669.9,1342.3 1664.0,1334.2 1656.5,1339.5 1647.1,1340.8 1646.5,1350.9 1639.1,1357.8 1637.6,1365.2 1637.5,1372.6 1639.9,1380.1 1635.8,1387.0 1636.4,1395.0 1635.4,1404.9 1627.0,1405.3 1619.9,1407.8 1613.2,1417.0 1606.1,1410.7 1600.2,1405.8 1595.9,1400.0 1590.9,1394.8 1583.4,1392.0 1576.3,1389.4 1571.2,1383.2 1565.7,1376.9 1557.4,1376.4 1548.3,1378.1 1542.2,1371.9 1532.6,1374.4 1523.4,1372.6 1516.6,1365.8 1506.5,1365.5 1499.8,1360.4 1493.5,1354.6 1487.5,1347.9 1477.9,1346.3 1468.8,1338.4 1461.5,1344.4 1453.2,1348.2 1446.0,1355.6 1438.9,1357.1 1430.6,1354.7 1424.2,1358.5 1419.2,1359.0 1408.7,1355.2 1403.0,1347.6 1400.6,1337.8 1395.0,1331.1 1392.1,1323.4 1392.3,1314.4 1384.8,1308.7 1382.9,1301.0 1377.8,1294.9 1376.0,1287.1 1376.6,1279.2 1372.6,1272.5 1373.3,1264.8 1364.9,1259.1 1363.7,1251.8 1362.4,1244.0 1366.1,1235.5 1367.7,1227.1 1360.9,1219.0 1360.0,1210.7 1366.3,1202.6 1364.1,1193.9 1368.3,1185.9 1363.9,1177.0 1364.8,1168.7 1370.5,1161.4 1370.2,1153.4 1371.9,1146.0 1376.2,1139.4 1373.9,1130.8 1379.4,1124.8 1385.1,1119.6 1387.3,1112.1 1390.4,1105.1 1398.1,1101.4" fill="#d7d3d0"/>
<polygon points="1464.5,1230.0 1514.5,1218.9 1531.1,1257.8 1497.8,1285.6 1458.9,1271.7" fill="#c4c0bd" opacity="0.7"/>
<polygon points="1403.3,1146.7 1445.0,1135.6 1458.9,1174.5 1417.2,1191.1" fill="#e2dedb" opacity="0.7"/>
<polygon points="1570.0,1285.6 1611.7,1271.7 1620.0,1313.4 1583.9,1330.0" fill="#e0dcd9" opacity="0.7"/>
<ellipse cx="1483.9" cy="1131.4" rx="6.1" ry="3.3" fill="#3c3839" opacity="0.9" transform="rotate(6 1483.9 1131.4)"/>
<ellipse cx="1508.9" cy="1160.6" rx="3.9" ry="5.0" fill="#3c3839" opacity="0.9" transform="rotate(-28 1508.9 1160.6)"/>
<ellipse cx="1497.8" cy="1199.5" rx="4.4" ry="2.8" fill="#3c3839" opacity="0.9" transform="rotate(7 1497.8 1199.5)"/>
<ellipse cx="1458.9" cy="1141.1" rx="2.8" ry="1.7" fill="#3c3839" opacity="0.9" transform="rotate(29 1458.9 1141.1)"/>
<ellipse cx="1597.8" cy="1241.1" rx="8.3" ry="6.1" fill="#3c3839" opacity="0.9" transform="rotate(5 1597.8 1241.1)"/>
<ellipse cx="1583.9" cy="1224.5" rx="6.1" ry="4.4" fill="#3c3839" opacity="0.9" transform="rotate(-33 1583.9 1224.5)"/>
<ellipse cx="1631.1" cy="1252.2" rx="3.9" ry="5.0" fill="#3c3839" opacity="0.9" transform="rotate(10 1631.1 1252.2)"/>
<ellipse cx="1653.4" cy="1268.9" rx="7.2" ry="4.4" fill="#3c3839" opacity="0.9" transform="rotate(-5 1653.4 1268.9)"/>
<ellipse cx="1661.7" cy="1288.4" rx="6.1" ry="3.9" fill="#3c3839" opacity="0.9" transform="rotate(-16 1661.7 1288.4)"/>
<ellipse cx="1620.0" cy="1293.9" rx="5.0" ry="3.3" fill="#3c3839" opacity="0.9" transform="rotate(-25 1620.0 1293.9)"/>
<ellipse cx="1625.6" cy="1335.6" rx="8.3" ry="4.4" fill="#3c3839" opacity="0.9" transform="rotate(18 1625.6 1335.6)"/>
<ellipse cx="1642.2" cy="1321.7" rx="4.4" ry="2.8" fill="#3c3839" opacity="0.9" transform="rotate(-29 1642.2 1321.7)"/>
<ellipse cx="1536.7" cy="1327.2" rx="5.6" ry="3.9" fill="#3c3839" opacity="0.9" transform="rotate(-13 1536.7 1327.2)"/>
<ellipse cx="1497.8" cy="1303.6" rx="5.0" ry="2.5" fill="#3c3839" opacity="0.9" transform="rotate(36 1497.8 1303.6)"/>
<ellipse cx="1470.0" cy="1335.6" rx="6.1" ry="4.4" fill="#3c3839" opacity="0.9" transform="rotate(-38 1470.0 1335.6)"/>
<ellipse cx="1570.0" cy="1332.8" rx="3.3" ry="2.2" fill="#3c3839" opacity="0.9" transform="rotate(-34 1570.0 1332.8)"/>
<ellipse cx="1550.6" cy="1349.5" rx="3.9" ry="2.2" fill="#3c3839" opacity="0.9" transform="rotate(2 1550.6 1349.5)"/>
<ellipse cx="1611.7" cy="1327.2" rx="3.3" ry="2.8" fill="#3c3839" opacity="0.9" transform="rotate(-9 1611.7 1327.2)"/>
<ellipse cx="1670.0" cy="1263.4" rx="3.9" ry="2.8" fill="#3c3839" opacity="0.9" transform="rotate(-24 1670.0 1263.4)"/>
<ellipse cx="1411.7" cy="1338.4" rx="5.6" ry="4.4" fill="#3c3839" opacity="0.9" transform="rotate(32 1411.7 1338.4)"/>
<ellipse cx="1678.4" cy="1327.2" rx="3.9" ry="2.8" fill="#3c3839" opacity="0.9" transform="rotate(-14 1678.4 1327.2)"/>
<polygon points="1570.0,1135.6 1583.9,1130.0 1600.6,1135.6 1597.8,1149.5 1578.4,1152.2" fill="#d2cecb" opacity="0.9"/>
<polygon points="1672.8,1116.1 1686.7,1113.3 1683.9,1124.5 1674.2,1123.1" fill="#d2cecb" opacity="0.9"/>
<polygon points="1711.7,1145.3 1722.8,1146.7 1720.0,1151.7 1712.3,1150.0" fill="#d2cecb" opacity="0.9"/>
<polygon points="1608.9,1163.3 1620.0,1160.6 1618.6,1171.7 1610.3,1171.1" fill="#d2cecb" opacity="0.9"/>
<polygon points="1736.7,1157.8 1747.8,1155.0 1749.2,1168.9 1739.5,1171.7" fill="#d2cecb" opacity="0.9"/>
<polygon points="1678.4,1391.1 1692.3,1380.0 1695.0,1396.7 1681.1,1402.3" fill="#d2cecb" opacity="0.9"/>
<polygon points="1653.4,1413.4 1664.5,1402.3 1668.6,1424.5 1656.1,1427.3" fill="#d2cecb" opacity="0.9"/>
<circle cx="1690.9" cy="1266.1" r="10" fill="#c8c4c4" stroke="#e8e6e6" stroke-width="2.5"/>
</g>
</g><ellipse cx="1568" cy="1225" rx="214" ry="216" fill="none" stroke="#5e585a" stroke-width="3" filter="url(#blD1)"/></g>
<g id="dish2"><ellipse cx="1568" cy="2178" rx="214.5" ry="202.5" fill="url(#gD2)"/><g clip-path="url(#cD2)">
<g filter="url(#blD3)" fill="#c9c3c6" opacity="0.42">
<ellipse cx="1536.5" cy="2283.8" rx="31.3" ry="20.9"/>
<ellipse cx="1633.0" cy="2132.6" rx="39.1" ry="28.7"/>
<ellipse cx="1528.6" cy="2119.5" rx="28.7" ry="23.5"/>
<ellipse cx="1659.0" cy="2289.0" rx="41.7" ry="18.3"/>
<ellipse cx="1489.5" cy="2210.8" rx="23.5" ry="36.5"/>
<ellipse cx="1593.8" cy="2210.8" rx="31.3" ry="31.3"/>
<ellipse cx="1698.2" cy="2210.8" rx="26.1" ry="31.3"/>
</g>
<g filter="url(#blD4)" fill="none" stroke="#f1eef0" stroke-width="6" opacity="0.7" stroke-linejoin="round" stroke-linecap="round">
<polyline points="1500.0,2116.9 1518.2,2080.4 1549.5,2054.3 1570.4,2043.9 1580.8,2070.0 1583.4,2106.5"/>
<polyline points="1445.2,2148.2 1466.0,2174.3 1502.6,2205.6 1554.7,2210.8"/>
<polyline points="1437.4,2158.6 1434.8,2210.8 1455.6,2263.0 1466.0,2289.0"/>
<polyline points="1591.2,2252.5 1633.0,2239.5 1664.3,2231.7"/>
<polyline points="1570.4,2132.6 1570.4,2174.3 1591.2,2252.5 1612.1,2299.5"/>
<polyline points="1619.9,2085.6 1659.0,2096.0 1690.3,2132.6 1711.2,2174.3"/>
<polyline points="1502.6,2116.9 1497.3,2132.6 1518.2,2158.6"/>
<polyline points="1711.2,2174.3 1716.4,2210.8 1700.8,2249.9"/>
</g>
<g filter="url(#blD1)"><polyline points="1526.0,2213.4 1562.5,2192.5" stroke="#8e888b" stroke-width="3" stroke-dasharray="6 5" opacity="0.75" fill="none"/></g>
<g fill="#bdb7ba" filter="url(#blD)"><ellipse cx="1492.6" cy="2337.9" rx="4.0" ry="2.6" opacity="0.46"/><ellipse cx="1553.6" cy="2287.9" rx="7.5" ry="2.0" opacity="0.46"/><ellipse cx="1510.4" cy="2286.5" rx="4.3" ry="2.5" opacity="0.40"/><ellipse cx="1482.5" cy="2277.2" rx="6.9" ry="2.7" opacity="0.30"/><ellipse cx="1517.4" cy="2280.2" rx="6.7" ry="3.6" opacity="0.42"/><ellipse cx="1588.3" cy="2338.9" rx="5.6" ry="2.3" opacity="0.35"/><ellipse cx="1698.4" cy="2279.5" rx="6.9" ry="4.6" opacity="0.36"/><ellipse cx="1584.0" cy="2353.9" rx="3.3" ry="3.4" opacity="0.32"/><ellipse cx="1637.5" cy="2315.6" rx="7.5" ry="2.2" opacity="0.22"/><ellipse cx="1619.3" cy="2281.3" rx="4.4" ry="3.9" opacity="0.36"/><ellipse cx="1552.8" cy="2356.4" rx="5.7" ry="3.4" opacity="0.38"/><ellipse cx="1499.8" cy="2332.7" rx="7.3" ry="4.0" opacity="0.43"/><ellipse cx="1645.7" cy="2293.4" rx="5.3" ry="2.7" opacity="0.30"/><ellipse cx="1582.9" cy="2309.6" rx="3.5" ry="3.3" opacity="0.40"/><ellipse cx="1564.3" cy="2288.3" rx="7.6" ry="2.2" opacity="0.45"/><ellipse cx="1498.4" cy="2283.8" rx="6.7" ry="4.4" opacity="0.37"/><ellipse cx="1614.1" cy="2321.4" rx="4.6" ry="2.4" opacity="0.31"/><ellipse cx="1632.6" cy="2336.7" rx="7.3" ry="4.2" opacity="0.49"/><ellipse cx="1617.4" cy="2304.4" rx="5.9" ry="2.6" opacity="0.40"/><ellipse cx="1529.1" cy="2284.7" rx="7.2" ry="3.1" opacity="0.43"/><ellipse cx="1611.2" cy="2341.3" rx="7.2" ry="4.9" opacity="0.45"/><ellipse cx="1620.5" cy="2328.0" rx="3.1" ry="4.8" opacity="0.45"/><ellipse cx="1539.3" cy="2290.6" rx="6.5" ry="2.9" opacity="0.30"/><ellipse cx="1477.9" cy="2346.3" rx="5.8" ry="3.2" opacity="0.24"/><ellipse cx="1625.1" cy="2278.5" rx="6.7" ry="2.6" opacity="0.33"/><ellipse cx="1556.5" cy="2305.9" rx="6.6" ry="4.3" opacity="0.37"/><ellipse cx="1496.4" cy="2280.3" rx="3.8" ry="3.9" opacity="0.40"/><ellipse cx="1540.3" cy="2329.5" rx="5.4" ry="3.3" opacity="0.28"/><ellipse cx="1653.7" cy="2285.2" rx="5.1" ry="2.8" opacity="0.40"/><ellipse cx="1590.7" cy="2329.9" rx="3.2" ry="3.2" opacity="0.38"/><ellipse cx="1478.3" cy="2300.4" rx="4.1" ry="2.4" opacity="0.28"/><ellipse cx="1553.5" cy="2276.6" rx="6.7" ry="2.5" opacity="0.31"/><ellipse cx="1641.6" cy="2316.4" rx="7.2" ry="4.4" opacity="0.22"/><ellipse cx="1678.8" cy="2279.4" rx="3.1" ry="4.8" opacity="0.46"/><ellipse cx="1611.6" cy="2322.4" rx="6.5" ry="3.3" opacity="0.23"/><ellipse cx="1481.4" cy="2302.3" rx="7.0" ry="3.9" opacity="0.45"/><ellipse cx="1692.4" cy="2283.1" rx="7.2" ry="2.7" opacity="0.38"/><ellipse cx="1599.5" cy="2308.0" rx="4.6" ry="3.0" opacity="0.30"/><ellipse cx="1515.9" cy="2317.3" rx="3.6" ry="3.5" opacity="0.47"/><ellipse cx="1558.5" cy="2334.8" rx="7.1" ry="4.4" opacity="0.27"/></g>
</g><ellipse cx="1568" cy="2178" rx="213" ry="201" fill="none" stroke="#aba7a9" stroke-width="3.5" filter="url(#blD1)"/></g>
<g id="center">
<g filter="url(#shY)"><path d="M1046,656 L1371,656 L1525,796.5 L1371,936.5 L1046,936.5 C950,936.5 910,893 910,796.5 C910,700 950,656 1046,656 Z" fill="url(#gY)" stroke="#b86a28" stroke-width="5" stroke-linejoin="round"/></g>
<path d="M1046,656 L1371,656 L1525,796.5 L1371,936.5 L1046,936.5 C950,936.5 910,893 910,796.5 C910,700 950,656 1046,656 Z" fill="none" stroke="#f9de9c" stroke-width="12" clip-path="url(#cY0)" opacity="0.8" filter="url(#soft)"/>
<path d="M1046,656 L1371,656 L1525,796.5 L1371,936.5 L1046,936.5 C950,936.5 910,893 910,796.5 C910,700 950,656 1046,656 Z" fill="none" stroke="#b56a2c" stroke-width="4" stroke-linejoin="round"/>
<g filter="url(#shY)"><path d="M2090,656 L1762,656 L1610,796.5 L1762,936.5 L2090,936.5 C2185,936.5 2225,893 2225,796.5 C2225,700 2185,656 2090,656 Z" fill="url(#gY)" stroke="#b86a28" stroke-width="5" stroke-linejoin="round"/></g>
<path d="M2090,656 L1762,656 L1610,796.5 L1762,936.5 L2090,936.5 C2185,936.5 2225,893 2225,796.5 C2225,700 2185,656 2090,656 Z" fill="none" stroke="#f9de9c" stroke-width="12" clip-path="url(#cY1)" opacity="0.8" filter="url(#soft)"/>
<path d="M2090,656 L1762,656 L1610,796.5 L1762,936.5 L2090,936.5 C2185,936.5 2225,893 2225,796.5 C2225,700 2185,656 2090,656 Z" fill="none" stroke="#b56a2c" stroke-width="4" stroke-linejoin="round"/>
<text x="1567" y="656" font-size="62.5" text-anchor="middle" fill="#1a1512" >滑菇</text>
<text x="1181" y="781" font-size="62.5" text-anchor="middle" fill="#1a1512" >高温加压</text>
<text x="1180" y="856" font-size="62.5" text-anchor="middle" fill="#1a1512" >提取</text>
<text transform="translate(1957,738.4) scale(1,1.045)" font-size="62.5" text-anchor="middle" fill="#1a1512" stroke="#1a1512" stroke-width="0.5" >DEAE-52</text>
<text transform="translate(1958,814) scale(1,1.045)" font-size="62.5" text-anchor="middle" fill="#1a1512" stroke="#1a1512" stroke-width="0.5" >Sephadx G-100</text>
<text x="1958" y="890" font-size="62.5" text-anchor="middle" fill="#1a1512" >纯化</text>
<g filter="url(#soft)"><path d="M1572.3,677 L1585.3,934 L1605.3,925 L1572.3,959 L1539.3,925 L1559.3,934 Z" fill="url(#gArr)"/><path d="M1572.3,677 L1585.3,934 L1605.3,925 L1572.3,959 L1539.3,925 L1559.3,934 Z" fill="url(#pStripe)"/></g>
<g filter="url(#soft)"><path d="M1571.7,1646 L1584.7,1931 L1604.7,1922 L1571.7,1956 L1538.7,1922 L1558.7,1931 Z" fill="url(#gArr)"/><path d="M1571.7,1646 L1584.7,1931 L1604.7,1922 L1571.7,1956 L1538.7,1922 L1558.7,1931 Z" fill="url(#pStripe)"/></g>
<text x="1565" y="1586.5" font-size="62.5" text-anchor="middle" fill="#1a1512" >滑菇多糖</text>
<g filter="url(#shG)"><ellipse cx="1291" cy="1821.5" rx="178" ry="95.5" fill="url(#gG)" stroke="#4c5e22" stroke-width="4"/></g>
<ellipse cx="1291" cy="1821.5" rx="173" ry="90.5" fill="none" stroke="#c0d19c" stroke-width="4" opacity="0.7" filter="url(#soft)"/>
<ellipse cx="1291" cy="1821.5" rx="178" ry="95.5" fill="none" stroke="#4c5e22" stroke-width="3.6"/>
<text x="1298" y="1842" font-size="62.5" text-anchor="middle" fill="#1a1512" >磷酸化</text>
<g filter="url(#shG)"><ellipse cx="1849" cy="1821.5" rx="178" ry="95.5" fill="url(#gG)" stroke="#4c5e22" stroke-width="4"/></g>
<ellipse cx="1849" cy="1821.5" rx="173" ry="90.5" fill="none" stroke="#c0d19c" stroke-width="4" opacity="0.7" filter="url(#soft)"/>
<ellipse cx="1849" cy="1821.5" rx="178" ry="95.5" fill="none" stroke="#4c5e22" stroke-width="3.6"/>
<text x="1854" y="1842" font-size="62.5" text-anchor="middle" fill="#1a1512" >磷酸化</text>
<path d="M1028,1140.5 L951,1143 L955,1731 L890,1745 L955,1757 L951,2345 L1028,2346" fill="none" stroke="#1c1512" stroke-width="10" stroke-linejoin="round" stroke-linecap="round"/>
<path d="M2128,1140.5 L2206,1143 L2202,1731 L2268,1744 L2202,1757 L2206,2345 L2128,2346" fill="none" stroke="#1c1512" stroke-width="10" stroke-linejoin="round" stroke-linecap="round"/>
<text x="1572" y="2503" font-size="62.5" text-anchor="middle" fill="#1a1512" >磷酸化</text>
<text x="1572" y="2578" font-size="62.5" text-anchor="middle" fill="#1a1512" >滑菇多糖</text>
<g filter="url(#shB)"><rect x="732" y="2459" width="530" height="177" rx="30" fill="url(#gB)" stroke="#34396e" stroke-width="5"/></g>
<rect x="737.5" y="2464.5" width="519" height="166" rx="25" fill="none" stroke="#c8d8ea" stroke-width="4" opacity="0.6" filter="url(#soft)"/><rect x="732" y="2459" width="530" height="177" rx="30" fill="none" stroke="#34396e" stroke-width="4.6"/>
<text transform="translate(995,2568) scale(1,1.045)" font-size="62.5" text-anchor="middle" fill="#1a1512" stroke="#1a1512" stroke-width="0.5" >PI3K/Akt/mTOR</text>
<g filter="url(#soft)"><path d="M374,2293 Q396,2298 416,2297 Q402,2303 400,2313 L412,2330 L545,2544 L396,2340 L386,2323 Q374,2326 362,2338 Q373,2316 374,2293 Z" fill="url(#gDiag)"/></g>
<g filter="url(#soft)"><path d="M1126,2723.5 L1204.6,2681 L1182.7,2729.2 C1241,2752 1310,2760 1380,2747.7 C1420,2739 1445,2727 1468,2710 C1440,2740 1400,2760 1334,2780 C1276,2790 1218,2778 1165.4,2760.4 L1145.8,2804 Z" fill="url(#gCurve)"/></g>
</g>
<g id="redgroup">
<path d="M197,944 L330,944 L330,1105 L213,1105 Q199,1105 199,1119 L199,1237 L37,1237 L37,1104 A160,160 0 0 1 197,944 Z" fill="url(#gRed)"/>
<path d="M197,944 L330,944 L330,1105 L213,1105 Q199,1105 199,1119 L199,1237 L37,1237 L37,1104 A160,160 0 0 1 197,944 Z" fill="none" stroke="#f8bdaf" stroke-width="14" stroke-linejoin="round" clip-path="url(#cR0)" opacity="0.85" filter="url(#soft)"/>
<path d="M197,944 L330,944 L330,1105 L213,1105 Q199,1105 199,1119 L199,1237 L37,1237 L37,1104 A160,160 0 0 1 197,944 Z" fill="none" stroke="#6b2522" stroke-width="5.6" stroke-linejoin="round"/>
<path d="M375,944 L508,944 A160,160 0 0 1 668,1104 L668,1237 L508,1237 L508,1119 Q508,1105 494,1105 L375,1105 Z" fill="url(#gRed)"/>
<path d="M375,944 L508,944 A160,160 0 0 1 668,1104 L668,1237 L508,1237 L508,1119 Q508,1105 494,1105 L375,1105 Z" fill="none" stroke="#f8bdaf" stroke-width="14" stroke-linejoin="round" clip-path="url(#cR1)" opacity="0.85" filter="url(#soft)"/>
<path d="M375,944 L508,944 A160,160 0 0 1 668,1104 L668,1237 L508,1237 L508,1119 Q508,1105 494,1105 L375,1105 Z" fill="none" stroke="#6b2522" stroke-width="5.6" stroke-linejoin="round"/>
<path d="M40,1291 L203,1291 L203,1410 Q203,1424 217,1424 L334,1424 L334,1584 L200,1584 A160,160 0 0 1 40,1424 Z" fill="url(#gRed)"/>
<path d="M40,1291 L203,1291 L203,1410 Q203,1424 217,1424 L334,1424 L334,1584 L200,1584 A160,160 0 0 1 40,1424 Z" fill="none" stroke="#f8bdaf" stroke-width="14" stroke-linejoin="round" clip-path="url(#cR2)" opacity="0.85" filter="url(#soft)"/>
<path d="M40,1291 L203,1291 L203,1410 Q203,1424 217,1424 L334,1424 L334,1584 L200,1584 A160,160 0 0 1 40,1424 Z" fill="none" stroke="#6b2522" stroke-width="5.6" stroke-linejoin="round"/>
<path d="M507,1291 L668,1291 L668,1424 A160,160 0 0 1 508,1584 L374,1584 L374,1424 L493,1424 Q507,1424 507,1410 Z" fill="url(#gRed)"/>
<path d="M507,1291 L668,1291 L668,1424 A160,160 0 0 1 508,1584 L374,1584 L374,1424 L493,1424 Q507,1424 507,1410 Z" fill="none" stroke="#f8bdaf" stroke-width="14" stroke-linejoin="round" clip-path="url(#cR3)" opacity="0.85" filter="url(#soft)"/>
<path d="M507,1291 L668,1291 L668,1424 A160,160 0 0 1 508,1584 L374,1584 L374,1424 L493,1424 Q507,1424 507,1410 Z" fill="none" stroke="#6b2522" stroke-width="5.6" stroke-linejoin="round"/>
<rect x="227.1" y="1135.3" width="258.5" height="260.4" rx="23" fill="url(#gRedC)" stroke="#6b2522" stroke-width="5.2"/>
<rect x="232" y="1140.5" width="248.5" height="250" rx="19" fill="none" stroke="#da837a" stroke-width="3" opacity="0.55" filter="url(#soft)"/>
<text transform="translate(208,1068) scale(1,1.045)" font-size="62.5" text-anchor="middle" fill="#1a1512" stroke="#1a1512" stroke-width="0.5" >·OH</text>
<text transform="translate(515,1068) scale(1,1.045)" font-size="62.5" text-anchor="middle" fill="#1a1512" stroke="#1a1512" stroke-width="0.5" >ABTS</text>
<text transform="translate(209,1519) scale(1,1.045)" font-size="62.5" text-anchor="middle" fill="#1a1512" stroke="#1a1512" stroke-width="0.5" >DPPH</text>
<text transform="translate(461,1522) scale(1,1.045)" font-size="62.5" fill="#1a1512" stroke="#1a1512" stroke-width="0.5">·O<tspan font-size="39" dy="12" dx="-2">2</tspan><tspan font-size="36" dy="-33" dx="-1">−</tspan></text>
<text x="362" y="1250" font-size="62.5" text-anchor="middle" fill="#1a1512" >抗氧化</text>
<text x="362" y="1324" font-size="62.5" text-anchor="middle" fill="#1a1512" >活性</text>
</g>
<g id="purplegroup">
<g filter="url(#shP)"><path d="M345.0,1805.2 L200.5,1709.1 A117,117 0 1 0 201.7,1903.1 Z" fill="#b297b0" stroke="#87647f" stroke-width="4" stroke-linejoin="round"/></g>
<path d="M345.0,1805.2 L200.5,1709.1 A117,117 0 1 0 201.7,1903.1 Z" fill="none" stroke="#c0a6be" stroke-width="11" clip-path="url(#cP0)" opacity="0.7" filter="url(#soft)"/>
<path d="M345.0,1805.2 L200.5,1709.1 A117,117 0 1 0 201.7,1903.1 Z" fill="none" stroke="#8a6888" stroke-width="3.2" stroke-linejoin="round"/>
<g filter="url(#shP)"><path d="M521.3,2001.0 L619.1,1852.3 A117,117 0 1 0 423.5,1852.3 Z" fill="#b297b0" stroke="#87647f" stroke-width="4" stroke-linejoin="round"/></g>
<path d="M521.3,2001.0 L619.1,1852.3 A117,117 0 1 0 423.5,1852.3 Z" fill="none" stroke="#c0a6be" stroke-width="11" clip-path="url(#cP1)" opacity="0.7" filter="url(#soft)"/>
<path d="M521.3,2001.0 L619.1,1852.3 A117,117 0 1 0 423.5,1852.3 Z" fill="none" stroke="#8a6888" stroke-width="3.2" stroke-linejoin="round"/>
<g filter="url(#shP)"><path d="M372.0,2144.7 L515.5,2242.9 A117,117 0 1 0 517.1,2048.8 Z" fill="#b297b0" stroke="#87647f" stroke-width="4" stroke-linejoin="round"/></g>
<path d="M372.0,2144.7 L515.5,2242.9 A117,117 0 1 0 517.1,2048.8 Z" fill="none" stroke="#c0a6be" stroke-width="11" clip-path="url(#cP2)" opacity="0.7" filter="url(#soft)"/>
<path d="M372.0,2144.7 L515.5,2242.9 A117,117 0 1 0 517.1,2048.8 Z" fill="none" stroke="#8a6888" stroke-width="3.2" stroke-linejoin="round"/>
<g filter="url(#shP)"><path d="M183.0,1978.0 L87.0,2118.3 A117,117 0 1 0 279.7,2117.8 Z" fill="#b297b0" stroke="#87647f" stroke-width="4" stroke-linejoin="round"/></g>
<path d="M183.0,1978.0 L87.0,2118.3 A117,117 0 1 0 279.7,2117.8 Z" fill="none" stroke="#c0a6be" stroke-width="11" clip-path="url(#cP3)" opacity="0.7" filter="url(#soft)"/>
<path d="M183.0,1978.0 L87.0,2118.3 A117,117 0 1 0 279.7,2117.8 Z" fill="none" stroke="#8a6888" stroke-width="3.2" stroke-linejoin="round"/>
<circle cx="344.6" cy="1981.4" r="117" fill="url(#gPC)" stroke="#3c2140" stroke-width="5.5"/>
<circle cx="344.6" cy="1981.4" r="111" fill="none" stroke="#b48aa0" stroke-width="3" opacity="0.6"/>
<text transform="translate(141,1828) scale(1,1.045)" font-size="62.5" text-anchor="middle" fill="#1a1512" stroke="#1a1512" stroke-width="0.5" >NO</text>
<text transform="translate(525,1828) scale(1,1.045)" font-size="62.5" text-anchor="middle" fill="#1a1512" stroke="#1a1512" stroke-width="0.5" >IL-6</text>
<text transform="translate(570.8,2168) scale(1,1.045)" font-size="62.5" text-anchor="middle" fill="#1a1512" stroke="#1a1512" stroke-width="0.5" >TNF-α</text>
<text transform="translate(181,2189) scale(1,1.045)" font-size="62.5" text-anchor="middle" fill="#1a1512" stroke="#1a1512" stroke-width="0.5" >IL-1β</text>
<text x="345" y="1968" font-size="62.5" text-anchor="middle" fill="#1a1512" >炎症</text>
<text x="345" y="2042" font-size="62.5" text-anchor="middle" fill="#1a1512" >因子</text>
</g>
<g id="rightpanel">
<rect x="2264.8" y="1316.6" width="128.5" height="358.5" fill="url(#gBox)" stroke="#2c272c" stroke-width="4.6" filter="url(#blH)"/>
<rect x="2270" y="1322" width="118" height="348" fill="none" stroke="#8a8994" stroke-width="2.5" opacity="0.45"/>
<text x="2330" y="1412" font-size="62.5" text-anchor="middle" fill="#16141a" >结</text>
<text x="2330" y="1487" font-size="62.5" text-anchor="middle" fill="#16141a" >构</text>
<text x="2330" y="1561" font-size="62.5" text-anchor="middle" fill="#16141a" >表</text>
<text x="2330" y="1638" font-size="62.5" text-anchor="middle" fill="#16141a" >征</text>
<g fill="none" stroke="#5c5454" stroke-width="4.4" stroke-dasharray="20 11.4" stroke-linecap="butt" filter="url(#bl1)"><path d="M2515,924.5 H3320"/><path d="M2506,926 V2462"/><path d="M3320,930 V2462"/><path d="M2512,2461.5 H3318"/></g>
<g filter="url(#bl1)" fill="none" stroke-linejoin="round" stroke-linecap="round">
<path d="M2585.9,1045.4 C2586.6,1069.6 2588.9,1158.2 2590.1,1190.8 C2591.3,1223.3 2591.6,1241.3 2593.0,1240.6 C2594.4,1239.9 2595.8,1198.4 2598.4,1186.6 C2601.0,1174.8 2606.5,1175.5 2608.8,1170.0 C2611.1,1164.5 2610.4,1153.0 2612.1,1153.4 C2613.8,1153.7 2615.2,1173.8 2619.2,1172.1 C2623.1,1170.3 2631.6,1144.0 2635.8,1143.0 C2639.9,1142.0 2641.7,1148.9 2644.1,1165.8 C2646.5,1182.8 2647.7,1244.8 2650.3,1244.8 C2652.9,1244.8 2657.0,1174.2 2659.4,1165.8 C2661.9,1157.5 2662.8,1191.1 2664.8,1194.9 C2666.9,1198.7 2669.5,1185.9 2671.9,1188.7 C2674.3,1191.5 2676.8,1198.7 2679.4,1211.5 C2682.0,1224.3 2684.9,1260.7 2687.7,1265.5 C2690.5,1270.4 2692.9,1262.8 2696.0,1240.6 C2699.1,1218.5 2703.6,1151.7 2706.4,1132.6 C2709.2,1113.6 2710.5,1131.9 2712.6,1126.4 C2714.7,1120.8 2716.1,1106.7 2718.8,1099.4 C2721.6,1092.1 2724.7,1085.2 2729.2,1082.8 C2733.7,1080.3 2739.6,1085.0 2745.8,1084.8 C2752.1,1084.7 2760.0,1079.7 2766.6,1081.9 C2773.2,1084.2 2779.8,1100.1 2785.3,1098.6 C2790.8,1097.0 2791.9,1077.2 2799.8,1072.4 C2807.8,1067.5 2817.2,1069.7 2833.1,1069.5 C2849.0,1069.3 2883.1,1069.6 2895.4,1071.1 C2907.6,1072.7 2903.8,1078.8 2906.6,1078.6 C2909.4,1078.5 2903.5,1071.1 2912.0,1070.3 C2920.5,1069.5 2941.8,1070.7 2957.7,1073.6 C2973.6,1076.5 2994.4,1082.8 3007.5,1087.8 C3020.7,1092.7 3026.9,1099.7 3036.6,1103.5 C3046.3,1107.4 3056.7,1111.7 3065.7,1111.0 C3074.7,1110.3 3078.8,1107.2 3090.6,1099.4 C3102.4,1091.6 3119.7,1070.3 3136.3,1064.1 C3152.9,1057.8 3181.3,1062.3 3190.3,1062.0" stroke="#e2b890" stroke-width="3.3"/>
<path d="M2585.9,968.5 C2586.4,977.9 2587.9,999.3 2588.8,1024.6 C2589.7,1049.9 2589.7,1104.2 2591.3,1120.2 C2592.9,1136.1 2595.5,1122.2 2598.4,1120.2 C2601.3,1118.1 2604.3,1115.3 2608.8,1107.7 C2613.3,1100.1 2619.2,1083.6 2625.4,1074.5 C2631.6,1065.3 2640.3,1054.2 2646.2,1052.9 C2652.0,1051.5 2656.9,1055.6 2660.7,1066.2 C2664.5,1076.7 2666.2,1101.1 2669.0,1116.0 C2671.8,1130.9 2674.5,1152.7 2677.3,1155.5 C2680.1,1158.2 2682.8,1147.5 2685.6,1132.6 C2688.4,1117.7 2691.2,1083.8 2693.9,1066.2 C2696.7,1048.5 2699.1,1031.9 2702.2,1026.7 C2705.3,1021.5 2709.2,1033.3 2712.6,1035.0 C2716.1,1036.7 2719.2,1035.0 2723.0,1037.1 C2726.8,1039.2 2731.7,1046.8 2735.5,1047.5 C2739.3,1048.2 2742.6,1044.8 2745.8,1041.2 C2749.1,1037.6 2751.5,1027.2 2755.0,1025.9 C2758.4,1024.5 2762.3,1029.7 2766.6,1032.9 C2771.0,1036.2 2777.3,1046.8 2781.2,1045.4 C2785.0,1044.0 2786.7,1030.7 2789.5,1024.6 C2792.2,1018.5 2794.0,1012.3 2797.8,1008.8 C2801.6,1005.4 2805.0,1003.8 2812.3,1003.8 C2819.6,1003.8 2831.0,1007.8 2841.4,1008.8 C2851.8,1009.9 2862.1,1010.1 2874.6,1010.1 C2887.1,1010.1 2902.3,1008.3 2916.1,1008.8 C2930.0,1009.3 2946.6,1011.0 2957.7,1013.0 C2968.8,1014.9 2975.0,1016.4 2982.6,1020.5 C2990.2,1024.5 2998.2,1037.1 3003.4,1037.1 C3008.6,1037.1 3010.3,1023.1 3013.8,1020.5 C3017.2,1017.8 3019.0,1018.9 3024.1,1021.3 C3029.3,1023.7 3037.6,1030.8 3044.9,1035.0 C3052.2,1039.2 3060.8,1045.5 3067.8,1046.2 C3074.7,1046.9 3079.2,1044.1 3086.5,1039.2 C3093.7,1034.2 3103.8,1022.5 3111.4,1016.3 C3119.0,1010.1 3119.0,1004.2 3132.1,1001.8 C3145.3,999.3 3180.6,1001.8 3190.3,1001.8" stroke="#625859" stroke-width="3.3"/>
<polyline points="2573.5,1278.0 3204.8,1278.0" stroke="#8a8486" stroke-width="2.5" stroke-dasharray="6 3"/>
<polyline points="2683.5,963.1 2714.7,963.1" stroke="#6b6163" stroke-width="2.5"/>
<polyline points="2683.5,989.3 2714.7,989.3" stroke="#e2b68e" stroke-width="2.5"/>
</g>
<g filter="url(#bl1)">
<text x="2652.4" y="967.3" font-size="14" text-anchor="middle" fill="#2a2a2a" opacity="0.85" font-weight="bold" font-family="Liberation Sans, sans-serif">PSM</text>
<text x="2652.4" y="993.9" font-size="14" text-anchor="middle" fill="#2a2a2a" opacity="0.85" font-weight="bold" font-family="Liberation Sans, sans-serif">PSPS</text>
<text x="2579.7" y="1297.9" font-size="12" text-anchor="middle" fill="#555" opacity="0.6" font-weight="bold" font-family="Liberation Sans, sans-serif">4000</text>
<text x="2675.2" y="1297.9" font-size="12" text-anchor="middle" fill="#555" opacity="0.6" font-weight="bold" font-family="Liberation Sans, sans-serif">3500</text>
<text x="2758.3" y="1297.9" font-size="12" text-anchor="middle" fill="#555" opacity="0.6" font-weight="bold" font-family="Liberation Sans, sans-serif">3000</text>
<text x="2845.5" y="1297.9" font-size="12" text-anchor="middle" fill="#555" opacity="0.6" font-weight="bold" font-family="Liberation Sans, sans-serif">2500</text>
<text x="2932.8" y="1297.9" font-size="12" text-anchor="middle" fill="#555" opacity="0.6" font-weight="bold" font-family="Liberation Sans, sans-serif">2000</text>
<text x="3015.8" y="1297.9" font-size="12" text-anchor="middle" fill="#555" opacity="0.6" font-weight="bold" font-family="Liberation Sans, sans-serif">1500</text>
<text x="3103.1" y="1297.9" font-size="12" text-anchor="middle" fill="#555" opacity="0.6" font-weight="bold" font-family="Liberation Sans, sans-serif">1000</text>
<text x="3194.5" y="1297.9" font-size="12" text-anchor="middle" fill="#555" opacity="0.6" font-weight="bold" font-family="Liberation Sans, sans-serif">500</text>
<text x="2868.4" y="1321.2" font-size="13" text-anchor="middle" fill="#333" opacity="0.8" font-weight="bold" font-family="Liberation Sans, sans-serif">Wavenumbers (cm⁻¹)</text>
</g>
<g filter="url(#bl1)" fill="none" stroke-linejoin="round">
<path d="M2554.8,1588.4 C2559.6,1588.0 2590.7,1587.6 2596.3,1585.1 C2601.9,1582.5 2601.3,1590.6 2602.5,1566.4 C2603.7,1542.2 2605.9,1376.4 2606.7,1377.4 C2607.5,1378.4 2607.7,1550.5 2609.6,1574.7 C2611.5,1598.9 2619.0,1585.3 2623.3,1585.1 C2627.6,1584.8 2641.3,1575.0 2646.2,1572.6 C2651.0,1570.2 2662.2,1567.2 2664.8,1564.3 C2667.5,1561.4 2667.5,1546.7 2669.0,1547.7 C2670.5,1548.7 2674.2,1568.5 2677.3,1572.6 C2680.5,1576.7 2691.9,1581.2 2696.0,1583.0 C2700.1,1584.8 2705.3,1587.9 2712.6,1588.4 C2719.9,1588.9 2752.7,1589.5 2758.3,1587.2 C2763.9,1584.8 2759.9,1568.5 2760.4,1568.5 C2760.9,1568.5 2758.1,1585.0 2762.5,1587.2 C2766.8,1589.3 2793.4,1588.8 2797.8,1587.2 C2802.1,1585.5 2799.1,1572.6 2799.8,1572.6 C2800.6,1572.6 2802.8,1585.7 2804.0,1587.2 C2805.2,1588.6 2809.2,1590.4 2810.2,1585.1 C2811.3,1579.7 2812.4,1541.2 2813.1,1541.5 C2813.9,1541.7 2813.9,1581.8 2816.5,1587.2 C2819.0,1592.5 2832.6,1593.6 2835.1,1587.2 C2837.7,1580.7 2837.4,1531.8 2838.1,1531.9 C2838.7,1532.1 2833.4,1581.7 2840.5,1588.4 C2847.7,1595.1 2892.7,1589.1 2899.5,1589.2" stroke="#b09c98" stroke-width="2.2" opacity="0.85"/>
<path d="M2926.5,1583.0 C2929.0,1581.6 2936.9,1578.5 2941.1,1574.7 C2945.2,1570.9 2948.7,1566.7 2951.5,1560.2 C2954.2,1553.6 2956.6,1539.4 2957.7,1535.2" stroke="#b09c98" stroke-width="2.2" opacity="0.85"/>
<path d="M2999.2,1539.4 C3000.6,1541.5 3004.1,1548.4 3007.5,1551.8 C3011.0,1555.3 3014.5,1559.5 3020.0,1560.2 C3025.5,1560.8 3036.6,1561.2 3040.8,1556.0 C3044.9,1550.8 3043.2,1529.0 3044.9,1529.0 C3046.6,1529.0 3048.4,1548.4 3051.1,1556.0 C3053.9,1563.6 3056.3,1569.8 3061.5,1574.7 C3066.7,1579.5 3071.9,1583.5 3082.3,1585.1 C3092.7,1586.7 3106.5,1584.6 3123.8,1584.2 C3141.1,1583.9 3174.9,1585.3 3186.1,1583.0 C3197.4,1580.7 3188.4,1570.2 3191.1,1570.5 C3193.9,1570.9 3199.1,1583.5 3202.8,1585.1 C3206.4,1586.7 3209.0,1579.7 3213.1,1580.1 C3217.3,1580.4 3221.1,1586.3 3227.7,1587.2 C3234.3,1588.0 3248.1,1588.2 3252.6,1585.1 C3257.1,1582.0 3253.6,1569.2 3254.7,1568.5 C3255.7,1567.8 3254.3,1578.7 3258.8,1580.9 C3263.3,1583.1 3276.5,1584.5 3281.7,1581.8 C3286.9,1579.0 3288.6,1567.2 3290.0,1564.3" stroke="#b09c98" stroke-width="2.2" opacity="0.85"/>
<path d="M2957.7,1535.2 C2958.7,1523.5 2962.0,1490.9 2963.9,1464.6 C2965.9,1438.3 2966.9,1391.9 2969.3,1377.4 C2971.7,1362.8 2975.2,1362.8 2978.5,1377.4 C2981.7,1391.9 2985.4,1437.6 2988.8,1464.6 C2992.3,1491.6 2997.5,1526.9 2999.2,1539.4" stroke="#e6dedc" stroke-width="2" opacity="0.75"/>
<polyline points="2606.7,1381.5 2606.7,1572.6" stroke="#ffffff" stroke-width="3.2" opacity="0.55"/>
<polyline points="2901.6,1377.4 2901.6,1614.2" stroke="#c8c0bc" stroke-width="2"/>
<polyline points="2558.9,1617.5 2899.5,1617.5" stroke="#cfc8c0" stroke-width="2.5"/>
<polyline points="2550.6,1635.8 2916.1,1635.8" stroke="#c4bcb6" stroke-width="3"/>
<polyline points="2930.7,1609.2 3285.8,1609.2" stroke="#c8c0bc" stroke-width="2.5"/>
<polyline points="3285.8,1377.4 3285.8,1589.2" stroke="#e4dedc" stroke-width="2"/>
<polyline points="2716.8,1384.9 2889.1,1384.9" stroke="#b0a8a8" stroke-width="3"/>
<polyline points="2716.8,1390.7 2824.8,1390.7" stroke="#c8c0c0" stroke-width="2"/>
<polyline points="3130.1,1384.9 3269.2,1382.8" stroke="#c0b8b8" stroke-width="3"/>
<polyline points="2683.5,1659.8 2878.8,1659.0" stroke="#b0a8a8" stroke-width="3"/>
<polyline points="2972.2,1672.3 3130.1,1670.2" stroke="#a8a0a0" stroke-width="3" stroke-dasharray="9 3"/>
<polyline points="2901.6,1639.1 2901.6,1904.9" stroke="#d8d0cc" stroke-width="2"/>
<polyline points="3285.8,1643.2 3285.8,1900.8" stroke="#e8e2e0" stroke-width="2"/>
<polyline points="2548.5,1913.2 2895.4,1913.2" stroke="#c4bcb0" stroke-width="2.5" stroke-dasharray="8 8"/>
<polyline points="2936.9,1902.8 3281.7,1902.8" stroke="#e0dad6" stroke-width="2" stroke-dasharray="6 14"/>
<polyline points="2626.2,1808.5 2626.2,1859.2" stroke="#c09890" stroke-width="2.5"/>
<polyline points="2637.8,1832.2 2637.8,1859.2" stroke="#d0b0a8" stroke-width="2"/>
<polyline points="2734.2,1836.4 2734.2,1859.2" stroke="#c09890" stroke-width="2.5"/>
<polyline points="2788.6,1736.7 2788.6,1859.2" stroke="#b88880" stroke-width="3"/>
<polyline points="3030.4,1799.0 3030.4,1859.2" stroke="#e4d4d0" stroke-width="2"/>
<polyline points="3118.4,1830.1 3118.4,1859.2" stroke="#c09890" stroke-width="2.5"/>
<polyline points="3167.5,1724.2 3167.5,1859.2" stroke="#dcc8c4" stroke-width="2.5"/>
<polyline points="3172.9,1724.2 3172.9,1859.2" stroke="#e4d4d0" stroke-width="2"/>
<polyline points="3229.8,1834.3 3229.8,1859.2" stroke="#d0b8b0" stroke-width="2"/>
<path d="M2777.0,1858.4 Q2787.4,1850.9 2788.6,1817.7 Q2789.9,1850.9 2801.9,1858.4 Z" fill="#b06860" stroke="none"/>
<path d="M3161.2,1858.4 Q3166.2,1850.9 3167.9,1813.5 Q3170.4,1850.9 3179.9,1858.4 Z" fill="#b87870" stroke="none"/>
</g>
<g filter="url(#bl2)" fill="none">
<polyline points="2549.8,1860.1 2899.5,1859.2" stroke="#762424" stroke-width="6.4"/>
<path d="M2934.8,1861.7 Q2999.2,1855.1 3061.5,1860.9 T3165.4,1859.2 T3281.7,1862.5" stroke="#762222" stroke-width="6.8"/>
</g>
<g filter="url(#bl1)" fill="#1a1a1a">
<ellipse cx="2575.5" cy="1406.5" rx="5" ry="7"/>
<ellipse cx="2939.0" cy="1393.2" rx="5" ry="7"/>
<ellipse cx="2578.4" cy="1688.1" rx="5" ry="7"/>
<ellipse cx="2932.8" cy="1680.6" rx="5" ry="7"/>
<rect x="2902.9" y="1659.9" width="10" height="4" fill="#333"/>
<rect x="2902.9" y="1715.2" width="10" height="4" fill="#333"/>
<rect x="2902.9" y="1767.9" width="10" height="4" fill="#333"/>
</g>
</g>
<g id="sem">
<g clip-path="url(#cSa)"><rect x="2631.2" y="1977.6" width="278.0" height="207.3" fill="url(#gSa)"/>
<rect x="2631.2" y="1977.6" width="278.0" height="207.3" filter="url(#semTex)" opacity="0.5"/>
<rect x="2631.2" y="1977.6" width="278.0" height="207.3" filter="url(#semTexL)" opacity="0.45"/>
<g filter="url(#bl3)">
<polygon points="2768.5,1980.3 2815.6,1980.3 2859.3,2020.7 2815.6,2010.6" fill="#5a5557" opacity="0.45"/>
<polygon points="2849.2,1980.3 2908.1,2030.8 2908.1,1980.3" fill="#5a5557" opacity="0.45"/>
<polygon points="2633.8,2138.5 2694.4,2151.9 2734.8,2165.4 2633.8,2172.1" fill="#5a5557" opacity="0.45"/>
<polygon points="2741.5,2125.0 2771.8,2151.9 2781.9,2125.0 2761.7,2094.7" fill="#5a5557" opacity="0.45"/>
<polygon points="2748.3,2040.9 2775.2,2030.8 2761.7,2051.0" fill="#e8e4e4" opacity="0.6"/>
<polygon points="2856.0,2111.5 2869.4,2118.3 2862.7,2125.0" fill="#e8e4e4" opacity="0.6"/>
<polygon points="2633.8,2158.7 2667.5,2165.4 2647.3,2172.1" fill="#e8e4e4" opacity="0.6"/>
<polyline points="2691.1,2017.3 2714.6,2034.1 2738.2,2027.4 2755.0,2003.8 2795.4,1983.7" fill="none" stroke="#3e3a3c" stroke-width="3" opacity="0.75" stroke-linejoin="round"/>
<polyline points="2691.1,2017.3 2714.6,2034.1 2738.2,2027.4 2755.0,2003.8 2795.4,1983.7" fill="none" stroke="#d8d4d4" stroke-width="2" opacity="0.6" transform="translate(2.5,2.5)"/>
<polyline points="2734.8,2044.2 2724.7,2091.3 2741.5,2125.0 2771.8,2151.9" fill="none" stroke="#3e3a3c" stroke-width="3" opacity="0.75" stroke-linejoin="round"/>
<polyline points="2734.8,2044.2 2724.7,2091.3 2741.5,2125.0 2771.8,2151.9" fill="none" stroke="#d8d4d4" stroke-width="2" opacity="0.6" transform="translate(2.5,2.5)"/>
<polyline points="2771.8,2151.9 2798.8,2084.6 2781.9,2077.9" fill="none" stroke="#3e3a3c" stroke-width="3" opacity="0.75" stroke-linejoin="round"/>
<polyline points="2771.8,2151.9 2798.8,2084.6 2781.9,2077.9" fill="none" stroke="#d8d4d4" stroke-width="2" opacity="0.6" transform="translate(2.5,2.5)"/>
<polyline points="2798.8,2084.6 2842.5,2067.8 2859.3,2091.3 2882.9,2125.0 2903.1,2138.5" fill="none" stroke="#3e3a3c" stroke-width="3" opacity="0.75" stroke-linejoin="round"/>
<polyline points="2798.8,2084.6 2842.5,2067.8 2859.3,2091.3 2882.9,2125.0 2903.1,2138.5" fill="none" stroke="#d8d4d4" stroke-width="2" opacity="0.6" transform="translate(2.5,2.5)"/>
<polyline points="2842.5,1980.3 2876.2,2003.8 2908.1,2034.1" fill="none" stroke="#3e3a3c" stroke-width="3" opacity="0.75" stroke-linejoin="round"/>
<polyline points="2842.5,1980.3 2876.2,2003.8 2908.1,2034.1" fill="none" stroke="#d8d4d4" stroke-width="2" opacity="0.6" transform="translate(2.5,2.5)"/>
<polyline points="2633.8,2084.6 2654.0,2071.2" fill="none" stroke="#3e3a3c" stroke-width="3" opacity="0.75" stroke-linejoin="round"/>
<polyline points="2633.8,2084.6 2654.0,2071.2" fill="none" stroke="#d8d4d4" stroke-width="2" opacity="0.6" transform="translate(2.5,2.5)"/>
<polyline points="2815.6,2044.2 2842.5,2071.2" fill="none" stroke="#3e3a3c" stroke-width="3" opacity="0.75" stroke-linejoin="round"/>
<polyline points="2815.6,2044.2 2842.5,2071.2" fill="none" stroke="#d8d4d4" stroke-width="2" opacity="0.6" transform="translate(2.5,2.5)"/>
<polyline points="2856.0,2091.3 2842.5,2118.3" fill="none" stroke="#3e3a3c" stroke-width="3" opacity="0.75" stroke-linejoin="round"/>
<polyline points="2856.0,2091.3 2842.5,2118.3" fill="none" stroke="#d8d4d4" stroke-width="2" opacity="0.6" transform="translate(2.5,2.5)"/>
<polyline points="2728.1,2151.9 2731.4,2172.1" fill="none" stroke="#3e3a3c" stroke-width="3" opacity="0.75" stroke-linejoin="round"/>
<polyline points="2728.1,2151.9 2731.4,2172.1" fill="none" stroke="#d8d4d4" stroke-width="2" opacity="0.6" transform="translate(2.5,2.5)"/>
<polyline points="2781.9,1983.7 2815.6,2000.5 2859.3,2020.7" fill="none" stroke="#3e3a3c" stroke-width="3" opacity="0.75" stroke-linejoin="round"/>
<polyline points="2781.9,1983.7 2815.6,2000.5 2859.3,2020.7" fill="none" stroke="#d8d4d4" stroke-width="2" opacity="0.6" transform="translate(2.5,2.5)"/>
</g>
<rect x="2631.2" y="2171.9" width="278.0" height="13" rx="3" fill="#1a1615"/></g>
<g clip-path="url(#cSb)"><rect x="2957.6" y="1981.0" width="278.0" height="206.3" fill="url(#gSb)"/>
<rect x="2957.6" y="1981.0" width="278.0" height="206.3" filter="url(#semTex)" opacity="0.5"/>
<rect x="2957.6" y="1981.0" width="278.0" height="206.3" filter="url(#semTexL)" opacity="0.45"/>
<g filter="url(#bl3)">
<polygon points="2960.3,1983.7 3037.7,1987.0 3031.0,2017.3 2960.3,2017.3" fill="#5a5557" opacity="0.45"/>
<polygon points="3131.9,2138.5 3172.3,2128.4 3165.6,2172.1 3118.5,2172.1" fill="#5a5557" opacity="0.45"/>
<polygon points="3017.5,2165.4 3034.3,2155.3 3031.0,2172.1" fill="#e8e4e4" opacity="0.6"/>
<polygon points="3084.8,2051.0 3234.6,2059.4 3234.6,2064.4 3091.5,2054.3" fill="#e8e4e4" opacity="0.6"/>
<polygon points="3105.0,2084.6 3135.3,2077.9 3118.5,2094.7" fill="#e8e4e4" opacity="0.6"/>
<polyline points="2960.3,2020.7 3027.6,2037.5 3091.5,2051.0 3152.1,2057.7 3234.6,2061.1" fill="none" stroke="#3e3a3c" stroke-width="3" opacity="0.75" stroke-linejoin="round"/>
<polyline points="2960.3,2020.7 3027.6,2037.5 3091.5,2051.0 3152.1,2057.7 3234.6,2061.1" fill="none" stroke="#d8d4d4" stroke-width="2" opacity="0.6" transform="translate(2.5,2.5)"/>
<polyline points="3041.1,2007.2 3024.2,2037.5 3010.8,2061.1 2993.9,2094.7 2963.7,2131.7" fill="none" stroke="#3e3a3c" stroke-width="3" opacity="0.75" stroke-linejoin="round"/>
<polyline points="3041.1,2007.2 3024.2,2037.5 3010.8,2061.1 2993.9,2094.7 2963.7,2131.7" fill="none" stroke="#d8d4d4" stroke-width="2" opacity="0.6" transform="translate(2.5,2.5)"/>
<polyline points="3091.5,2051.0 3078.1,2077.9 3061.3,2098.1 3057.9,2125.0" fill="none" stroke="#3e3a3c" stroke-width="3" opacity="0.75" stroke-linejoin="round"/>
<polyline points="3091.5,2051.0 3078.1,2077.9 3061.3,2098.1 3057.9,2125.0" fill="none" stroke="#d8d4d4" stroke-width="2" opacity="0.6" transform="translate(2.5,2.5)"/>
<polyline points="3061.3,2098.1 3105.0,2091.3 3152.1,2074.5 3219.4,2067.8" fill="none" stroke="#3e3a3c" stroke-width="3" opacity="0.75" stroke-linejoin="round"/>
<polyline points="3061.3,2098.1 3105.0,2091.3 3152.1,2074.5 3219.4,2067.8" fill="none" stroke="#d8d4d4" stroke-width="2" opacity="0.6" transform="translate(2.5,2.5)"/>
<polyline points="3206.0,2094.7 3192.5,2118.3 3172.3,2125.0" fill="none" stroke="#3e3a3c" stroke-width="3" opacity="0.75" stroke-linejoin="round"/>
<polyline points="3206.0,2094.7 3192.5,2118.3 3172.3,2125.0" fill="none" stroke="#d8d4d4" stroke-width="2" opacity="0.6" transform="translate(2.5,2.5)"/>
<polyline points="3091.5,2118.3 3118.5,2138.5 3152.1,2145.2" fill="none" stroke="#3e3a3c" stroke-width="3" opacity="0.75" stroke-linejoin="round"/>
<polyline points="3091.5,2118.3 3118.5,2138.5 3152.1,2145.2" fill="none" stroke="#d8d4d4" stroke-width="2" opacity="0.6" transform="translate(2.5,2.5)"/>
<polyline points="2960.3,2044.2 2967.0,2017.3" fill="none" stroke="#3e3a3c" stroke-width="3" opacity="0.75" stroke-linejoin="round"/>
<polyline points="2960.3,2044.2 2967.0,2017.3" fill="none" stroke="#d8d4d4" stroke-width="2" opacity="0.6" transform="translate(2.5,2.5)"/>
</g>
<rect x="2957.6" y="2174.3" width="278.0" height="13" rx="3" fill="#1a1615"/></g>
<g clip-path="url(#cSc)"><rect x="2627.8" y="2230.0" width="278.7" height="208.0" fill="url(#gSc)"/>
<rect x="2627.8" y="2230.0" width="278.7" height="208.0" filter="url(#semTex)" opacity="0.5"/>
<rect x="2627.8" y="2230.0" width="278.7" height="208.0" filter="url(#semTexL)" opacity="0.45"/>
<g filter="url(#bl3)">
<polygon points="2681.0,2320.2 2734.8,2313.5 2748.3,2353.8 2694.4,2360.6" fill="#5a5557" opacity="0.45"/>
<polygon points="2869.4,2259.6 2903.1,2273.1 2903.1,2289.9" fill="#5a5557" opacity="0.45"/>
<polygon points="2630.5,2320.2 2657.4,2313.5 2664.1,2347.1 2637.2,2367.3" fill="#e8e4e4" opacity="0.6"/>
<polygon points="2869.4,2252.9 2903.1,2246.2 2903.1,2273.1" fill="#e8e4e4" opacity="0.6"/>
<polygon points="2869.4,2313.5 2903.1,2320.2 2899.7,2347.1" fill="#e8e4e4" opacity="0.6"/>
<polyline points="2691.1,2269.7 2721.3,2279.8 2755.0,2289.9 2768.5,2313.5" fill="none" stroke="#3e3a3c" stroke-width="3" opacity="0.75" stroke-linejoin="round"/>
<polyline points="2691.1,2269.7 2721.3,2279.8 2755.0,2289.9 2768.5,2313.5" fill="none" stroke="#d8d4d4" stroke-width="2" opacity="0.6" transform="translate(2.5,2.5)"/>
<polyline points="2647.3,2313.5 2674.2,2320.2 2681.0,2340.4" fill="none" stroke="#3e3a3c" stroke-width="3" opacity="0.75" stroke-linejoin="round"/>
<polyline points="2647.3,2313.5 2674.2,2320.2 2681.0,2340.4" fill="none" stroke="#d8d4d4" stroke-width="2" opacity="0.6" transform="translate(2.5,2.5)"/>
<polyline points="2741.5,2229.3 2755.0,2252.9 2795.4,2263.0 2822.3,2252.9" fill="none" stroke="#3e3a3c" stroke-width="3" opacity="0.75" stroke-linejoin="round"/>
<polyline points="2741.5,2229.3 2755.0,2252.9 2795.4,2263.0 2822.3,2252.9" fill="none" stroke="#d8d4d4" stroke-width="2" opacity="0.6" transform="translate(2.5,2.5)"/>
<polyline points="2835.8,2273.1 2862.7,2289.9 2893.0,2286.5" fill="none" stroke="#3e3a3c" stroke-width="3" opacity="0.75" stroke-linejoin="round"/>
<polyline points="2835.8,2273.1 2862.7,2289.9 2893.0,2286.5" fill="none" stroke="#d8d4d4" stroke-width="2" opacity="0.6" transform="translate(2.5,2.5)"/>
<polyline points="2755.0,2333.7 2788.7,2340.4 2822.3,2337.0" fill="none" stroke="#3e3a3c" stroke-width="3" opacity="0.75" stroke-linejoin="round"/>
<polyline points="2755.0,2333.7 2788.7,2340.4 2822.3,2337.0" fill="none" stroke="#d8d4d4" stroke-width="2" opacity="0.6" transform="translate(2.5,2.5)"/>
<polyline points="2849.2,2340.4 2869.4,2353.8 2882.9,2347.1" fill="none" stroke="#3e3a3c" stroke-width="3" opacity="0.75" stroke-linejoin="round"/>
<polyline points="2849.2,2340.4 2869.4,2353.8 2882.9,2347.1" fill="none" stroke="#d8d4d4" stroke-width="2" opacity="0.6" transform="translate(2.5,2.5)"/>
<polyline points="2637.2,2370.7 2667.5,2353.8" fill="none" stroke="#3e3a3c" stroke-width="3" opacity="0.75" stroke-linejoin="round"/>
<polyline points="2637.2,2370.7 2667.5,2353.8" fill="none" stroke="#d8d4d4" stroke-width="2" opacity="0.6" transform="translate(2.5,2.5)"/>
<polyline points="2781.9,2387.5 2802.1,2374.0" fill="none" stroke="#3e3a3c" stroke-width="3" opacity="0.75" stroke-linejoin="round"/>
<polyline points="2781.9,2387.5 2802.1,2374.0" fill="none" stroke="#d8d4d4" stroke-width="2" opacity="0.6" transform="translate(2.5,2.5)"/>
</g>
<rect x="2627.8" y="2425.0" width="278.7" height="13" rx="3" fill="#1a1615"/></g>
<g clip-path="url(#cSd)"><rect x="2957.6" y="2227.6" width="275.3" height="210.3" fill="url(#gSd)"/>
<rect x="2957.6" y="2227.6" width="275.3" height="210.3" filter="url(#semTex)" opacity="0.5"/>
<rect x="2957.6" y="2227.6" width="275.3" height="210.3" filter="url(#semTexL)" opacity="0.45"/>
<g filter="url(#bl3)">
<polygon points="3084.8,2360.6 3152.1,2353.8 3158.8,2397.6 3105.0,2404.3" fill="#5a5557" opacity="0.45"/>
<polygon points="2960.3,2357.2 3017.5,2360.6 2960.3,2421.2" fill="#5a5557" opacity="0.45"/>
<polygon points="3152.1,2279.8 3202.6,2320.2 3219.4,2300.0 3179.0,2252.9" fill="#e8e4e4" opacity="0.6"/>
<polygon points="2983.8,2279.8 3017.5,2273.1 3014.1,2300.0" fill="#e8e4e4" opacity="0.6"/>
<polygon points="3209.3,2340.4 3231.2,2337.0 3231.2,2360.6" fill="#e8e4e4" opacity="0.6"/>
<polyline points="3027.6,2229.3 3020.9,2273.1 3000.7,2313.5 2980.5,2347.1" fill="none" stroke="#3e3a3c" stroke-width="3" opacity="0.75" stroke-linejoin="round"/>
<polyline points="3027.6,2229.3 3020.9,2273.1 3000.7,2313.5 2980.5,2347.1" fill="none" stroke="#d8d4d4" stroke-width="2" opacity="0.6" transform="translate(2.5,2.5)"/>
<polyline points="3000.7,2313.5 3031.0,2306.7 3037.7,2320.2 3020.9,2337.0 3044.4,2350.5" fill="none" stroke="#3e3a3c" stroke-width="3" opacity="0.75" stroke-linejoin="round"/>
<polyline points="3000.7,2313.5 3031.0,2306.7 3037.7,2320.2 3020.9,2337.0 3044.4,2350.5" fill="none" stroke="#d8d4d4" stroke-width="2" opacity="0.6" transform="translate(2.5,2.5)"/>
<polyline points="3138.7,2229.3 3145.4,2273.1 3135.3,2320.2 3125.2,2353.8" fill="none" stroke="#3e3a3c" stroke-width="3" opacity="0.75" stroke-linejoin="round"/>
<polyline points="3138.7,2229.3 3145.4,2273.1 3135.3,2320.2 3125.2,2353.8" fill="none" stroke="#d8d4d4" stroke-width="2" opacity="0.6" transform="translate(2.5,2.5)"/>
<polyline points="3152.1,2279.8 3202.6,2320.2 3219.4,2300.0 3179.0,2252.9" fill="none" stroke="#3e3a3c" stroke-width="3" opacity="0.75" stroke-linejoin="round"/>
<polyline points="3152.1,2279.8 3202.6,2320.2 3219.4,2300.0 3179.0,2252.9" fill="none" stroke="#d8d4d4" stroke-width="2" opacity="0.6" transform="translate(2.5,2.5)"/>
<polyline points="2960.3,2357.2 3017.5,2360.6 3084.8,2353.8 3125.2,2353.8" fill="none" stroke="#3e3a3c" stroke-width="3" opacity="0.75" stroke-linejoin="round"/>
<polyline points="2960.3,2357.2 3017.5,2360.6 3084.8,2353.8 3125.2,2353.8" fill="none" stroke="#d8d4d4" stroke-width="2" opacity="0.6" transform="translate(2.5,2.5)"/>
<polyline points="3091.5,2380.8 3118.5,2394.2 3145.4,2384.1 3131.9,2407.7" fill="none" stroke="#3e3a3c" stroke-width="3" opacity="0.75" stroke-linejoin="round"/>
<polyline points="3091.5,2380.8 3118.5,2394.2 3145.4,2384.1 3131.9,2407.7" fill="none" stroke="#d8d4d4" stroke-width="2" opacity="0.6" transform="translate(2.5,2.5)"/>
<polyline points="3044.4,2232.7 3057.9,2246.2 3091.5,2242.8" fill="none" stroke="#3e3a3c" stroke-width="3" opacity="0.75" stroke-linejoin="round"/>
<polyline points="3044.4,2232.7 3057.9,2246.2 3091.5,2242.8" fill="none" stroke="#d8d4d4" stroke-width="2" opacity="0.6" transform="translate(2.5,2.5)"/>
<polyline points="3179.0,2236.1 3232.9,2266.3" fill="none" stroke="#3e3a3c" stroke-width="3" opacity="0.75" stroke-linejoin="round"/>
<polyline points="3179.0,2236.1 3232.9,2266.3" fill="none" stroke="#d8d4d4" stroke-width="2" opacity="0.6" transform="translate(2.5,2.5)"/>
</g>
<rect x="2957.6" y="2425.0" width="275.3" height="13" rx="3" fill="#1a1615"/></g>
<text x="2617.0" y="2005.5" font-size="22" font-weight="bold" text-anchor="middle" fill="#1a1a1a" filter="url(#bl1)" font-family="Liberation Sans, sans-serif">a</text>
<text x="2945.1" y="2006.5" font-size="22" font-weight="bold" text-anchor="middle" fill="#1a1a1a" filter="url(#bl1)" font-family="Liberation Sans, sans-serif">b</text>
<text x="2615.3" y="2263.0" font-size="22" font-weight="bold" text-anchor="middle" fill="#1a1a1a" filter="url(#bl1)" font-family="Liberation Sans, sans-serif">c</text>
<text x="2936.7" y="2261.3" font-size="22" font-weight="bold" text-anchor="middle" fill="#1a1a1a" filter="url(#bl1)" font-family="Liberation Sans, sans-serif">d</text>
</g>
</svg>
</body></html>
